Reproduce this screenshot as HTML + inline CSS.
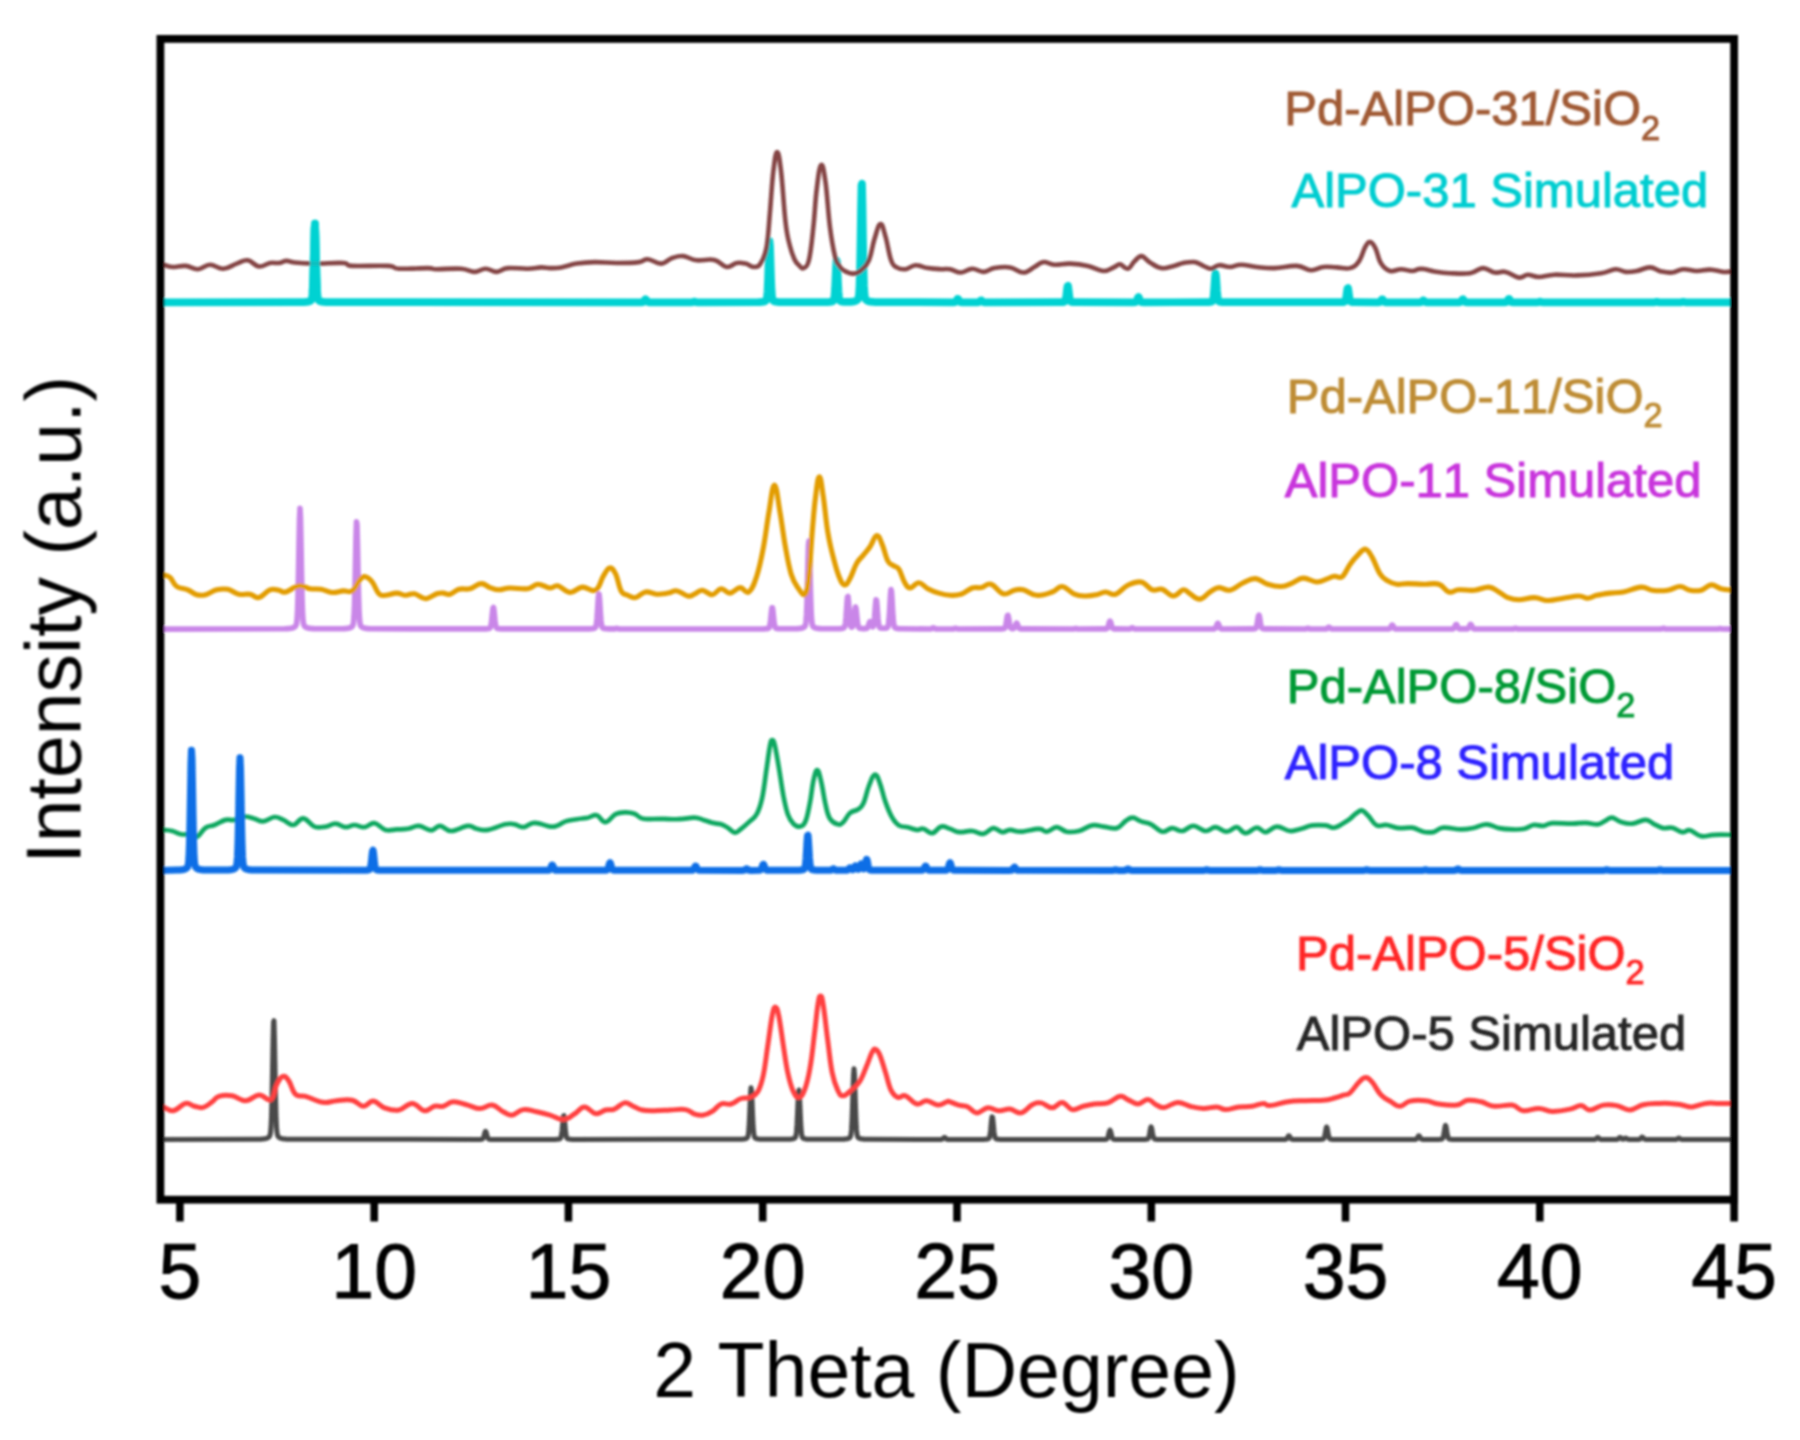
<!DOCTYPE html>
<html><head><meta charset="utf-8"><title>XRD patterns</title>
<style>
html,body{margin:0;padding:0;background:#fff;}
body{width:1800px;height:1440px;overflow:hidden;}
svg{display:block;}
text{font-kerning:none;stroke-width:1.0px;paint-order:stroke;font-family:"Liberation Sans",Arial,Helvetica,sans-serif;}
</style></head><body>
<svg width="1800" height="1440" viewBox="0 0 1800 1440">
<defs><filter id="b" x="-5%" y="-5%" width="110%" height="110%"><feGaussianBlur stdDeviation="1.3"/></filter></defs>
<rect width="1800" height="1440" fill="#fff"/>
<g filter="url(#b)">
<path d="M160.5 1139.6L259.0 1139.3L259.5 1139.3L260.0 1139.2L260.5 1139.2L261.0 1139.2L261.5 1139.1L262.0 1139.1L262.5 1139.1L263.0 1139.0L263.5 1139.0L264.0 1138.9L264.5 1138.8L265.0 1138.7L265.5 1138.6L266.0 1138.5L266.5 1138.4L267.0 1138.2L267.5 1138.0L268.0 1137.7L268.5 1137.4L269.0 1137.0L269.5 1136.3L270.0 1135.2L270.5 1132.8L271.0 1127.5L271.5 1116.5L272.0 1097.3L272.5 1070.3L273.0 1041.5L273.5 1021.9L274.0 1020.7L274.5 1038.7L275.0 1067.0L275.5 1094.6L276.0 1114.8L276.5 1126.6L277.0 1132.4L277.5 1135.0L278.0 1136.2L278.5 1136.9L279.0 1137.4L279.5 1137.7L280.0 1138.0L280.5 1138.2L281.0 1138.4L281.5 1138.5L282.0 1138.6L282.5 1138.7L283.0 1138.8L283.5 1138.9L284.0 1139.0L284.5 1139.0L285.0 1139.1L285.5 1139.1L286.0 1139.1L286.5 1139.2L287.0 1139.2L287.5 1139.2L288.0 1139.3L288.5 1139.3L480.0 1139.4L480.5 1139.4L481.0 1139.4L481.5 1139.3L482.0 1139.2L482.5 1139.0L483.0 1138.5L483.5 1137.5L484.0 1135.9L484.5 1133.9L485.0 1132.1L485.5 1131.3L486.0 1131.8L486.5 1133.5L487.0 1135.5L487.5 1137.2L488.0 1138.3L488.5 1138.9L489.0 1139.2L489.5 1139.3L490.0 1139.4L490.5 1139.4L491.0 1139.4L491.5 1139.5L555.0 1139.4L555.5 1139.4L556.0 1139.4L556.5 1139.3L557.0 1139.3L557.5 1139.3L558.0 1139.2L558.5 1139.1L559.0 1139.1L559.5 1138.9L560.0 1138.7L560.5 1138.2L561.0 1137.2L561.5 1134.9L562.0 1131.1L562.5 1125.7L563.0 1119.9L563.5 1116.0L564.0 1115.7L564.5 1119.3L565.0 1125.0L565.5 1130.6L566.0 1134.6L566.5 1137.0L567.0 1138.1L567.5 1138.7L568.0 1138.9L568.5 1139.0L569.0 1139.1L569.5 1139.2L570.0 1139.3L570.5 1139.3L571.0 1139.3L571.5 1139.4L572.0 1139.4L572.5 1139.4L740.0 1139.3L740.5 1139.3L741.0 1139.3L741.5 1139.3L742.0 1139.2L742.5 1139.2L743.0 1139.1L743.5 1139.1L744.0 1139.0L744.5 1139.0L745.0 1138.9L745.5 1138.7L746.0 1138.6L746.5 1138.4L747.0 1138.0L747.5 1137.4L748.0 1136.1L748.5 1133.1L749.0 1127.3L749.5 1117.8L750.0 1105.5L750.5 1093.9L751.0 1087.8L751.5 1090.2L752.0 1100.0L752.5 1112.5L753.0 1123.5L753.5 1130.9L754.0 1135.0L754.5 1137.0L755.0 1137.8L755.5 1138.2L756.0 1138.5L756.5 1138.7L757.0 1138.8L757.5 1138.9L758.0 1139.0L758.5 1139.1L759.0 1139.1L759.5 1139.2L760.0 1139.2L760.5 1139.2L761.0 1139.3L761.5 1139.3L762.0 1139.3L788.0 1139.3L788.5 1139.3L789.0 1139.3L789.5 1139.2L790.0 1139.2L790.5 1139.2L791.0 1139.1L791.5 1139.1L792.0 1139.0L792.5 1138.9L793.0 1138.8L793.5 1138.7L794.0 1138.5L794.5 1138.3L795.0 1137.9L795.5 1137.1L796.0 1135.2L796.5 1131.3L797.0 1124.2L797.5 1113.7L798.0 1101.6L798.5 1092.3L799.0 1090.0L799.5 1095.8L800.0 1106.9L800.5 1118.7L801.0 1127.8L801.5 1133.4L802.0 1136.2L802.5 1137.5L803.0 1138.1L803.5 1138.4L804.0 1138.6L804.5 1138.8L805.0 1138.9L805.5 1139.0L806.0 1139.0L806.5 1139.1L807.0 1139.2L807.5 1139.2L808.0 1139.2L808.5 1139.3L809.0 1139.3L809.5 1139.3L810.0 1139.3L841.5 1139.3L842.0 1139.3L842.5 1139.3L843.0 1139.2L843.5 1139.2L844.0 1139.2L844.5 1139.1L845.0 1139.1L845.5 1139.0L846.0 1139.0L846.5 1138.9L847.0 1138.8L847.5 1138.7L848.0 1138.6L848.5 1138.4L849.0 1138.2L849.5 1137.9L850.0 1137.4L850.5 1136.4L851.0 1134.2L851.5 1129.4L852.0 1120.4L852.5 1106.4L853.0 1089.3L853.5 1074.6L854.0 1068.7L854.5 1074.6L855.0 1089.3L855.5 1106.4L856.0 1120.4L856.5 1129.4L857.0 1134.2L857.5 1136.4L858.0 1137.4L858.5 1137.9L859.0 1138.2L859.5 1138.4L860.0 1138.6L860.5 1138.7L861.0 1138.8L861.5 1138.9L862.0 1139.0L862.5 1139.0L863.0 1139.1L863.5 1139.1L864.0 1139.2L864.5 1139.2L865.0 1139.3L865.5 1139.3L866.0 1139.3L866.5 1139.3L940.5 1139.5L941.0 1139.5L941.5 1139.4L942.0 1139.2L942.5 1139.0L943.0 1138.5L943.5 1138.0L944.0 1137.6L944.5 1137.4L945.0 1137.6L945.5 1138.1L946.0 1138.6L946.5 1139.0L947.0 1139.3L947.5 1139.4L948.0 1139.5L948.5 1139.5L984.0 1139.4L984.5 1139.4L985.0 1139.3L985.5 1139.3L986.0 1139.3L986.5 1139.2L987.0 1139.2L987.5 1139.1L988.0 1138.9L988.5 1138.7L989.0 1138.2L989.5 1137.1L990.0 1134.8L990.5 1131.0L991.0 1125.7L991.5 1120.3L992.0 1116.8L992.5 1117.1L993.0 1120.8L993.5 1126.3L994.0 1131.5L994.5 1135.2L995.0 1137.3L995.5 1138.3L996.0 1138.7L996.5 1139.0L997.0 1139.1L997.5 1139.2L998.0 1139.2L998.5 1139.3L999.0 1139.3L999.5 1139.4L1000.0 1139.4L1000.5 1139.4L1104.0 1139.4L1104.5 1139.4L1105.0 1139.4L1105.5 1139.4L1106.0 1139.3L1106.5 1139.2L1107.0 1138.9L1107.5 1138.2L1108.0 1137.0L1108.5 1135.2L1109.0 1132.9L1109.5 1131.0L1110.0 1130.2L1110.5 1131.0L1111.0 1132.9L1111.5 1135.2L1112.0 1137.0L1112.5 1138.2L1113.0 1138.9L1113.5 1139.2L1114.0 1139.3L1114.5 1139.4L1115.0 1139.4L1115.5 1139.4L1116.0 1139.4L1144.5 1139.4L1145.0 1139.4L1145.5 1139.4L1146.0 1139.3L1146.5 1139.3L1147.0 1139.2L1147.5 1139.1L1148.0 1138.7L1148.5 1138.0L1149.0 1136.6L1149.5 1134.2L1150.0 1131.2L1150.5 1128.4L1151.0 1126.9L1151.5 1127.5L1152.0 1129.9L1152.5 1133.0L1153.0 1135.7L1153.5 1137.5L1154.0 1138.5L1154.5 1138.9L1155.0 1139.2L1155.5 1139.3L1156.0 1139.3L1156.5 1139.4L1157.0 1139.4L1157.5 1139.4L1158.0 1139.4L1284.5 1139.5L1285.0 1139.5L1285.5 1139.4L1286.0 1139.2L1286.5 1138.9L1287.0 1138.4L1287.5 1137.6L1288.0 1136.6L1288.5 1135.9L1289.0 1135.7L1289.5 1136.2L1290.0 1137.1L1290.5 1138.0L1291.0 1138.7L1291.5 1139.1L1292.0 1139.3L1292.5 1139.4L1293.0 1139.5L1293.5 1139.5L1320.0 1139.4L1320.5 1139.4L1321.0 1139.4L1321.5 1139.3L1322.0 1139.3L1322.5 1139.2L1323.0 1139.1L1323.5 1138.8L1324.0 1138.1L1324.5 1136.8L1325.0 1134.6L1325.5 1131.6L1326.0 1128.7L1326.5 1127.0L1327.0 1127.3L1327.5 1129.6L1328.0 1132.6L1328.5 1135.4L1329.0 1137.3L1329.5 1138.4L1330.0 1138.9L1330.5 1139.1L1331.0 1139.3L1331.5 1139.3L1332.0 1139.4L1332.5 1139.4L1333.0 1139.4L1333.5 1139.4L1414.5 1139.5L1415.0 1139.4L1415.5 1139.4L1416.0 1139.2L1416.5 1138.9L1417.0 1138.4L1417.5 1137.6L1418.0 1136.6L1418.5 1135.9L1419.0 1135.7L1419.5 1136.2L1420.0 1137.1L1420.5 1138.0L1421.0 1138.7L1421.5 1139.1L1422.0 1139.3L1422.5 1139.4L1423.0 1139.5L1423.5 1139.5L1438.5 1139.4L1439.0 1139.4L1439.5 1139.4L1440.0 1139.3L1440.5 1139.3L1441.0 1139.2L1441.5 1139.2L1442.0 1139.0L1442.5 1138.6L1443.0 1137.7L1443.5 1136.0L1444.0 1133.3L1444.5 1129.9L1445.0 1126.8L1445.5 1125.3L1446.0 1126.3L1446.5 1129.1L1447.0 1132.5L1447.5 1135.5L1448.0 1137.4L1448.5 1138.4L1449.0 1138.9L1449.5 1139.1L1450.0 1139.2L1450.5 1139.3L1451.0 1139.3L1451.5 1139.4L1452.0 1139.4L1452.5 1139.4L1593.5 1139.5L1594.0 1139.5L1594.5 1139.5L1595.0 1139.4L1595.5 1139.2L1596.0 1138.8L1596.5 1138.4L1597.0 1137.8L1597.5 1137.5L1598.0 1137.5L1598.5 1137.8L1599.0 1138.3L1599.5 1138.8L1600.0 1139.1L1600.5 1139.4L1601.0 1139.5L1601.5 1139.5L1602.0 1139.5L1616.0 1139.5L1616.5 1139.5L1617.0 1139.4L1617.5 1139.3L1618.0 1139.0L1618.5 1138.6L1619.0 1138.0L1619.5 1137.6L1620.0 1137.4L1620.5 1137.6L1621.0 1138.0L1621.5 1138.5L1622.0 1138.9L1622.5 1139.2L1623.0 1139.2L1623.5 1139.1L1624.0 1138.9L1624.5 1138.5L1625.0 1138.2L1625.5 1138.1L1626.0 1138.2L1626.5 1138.5L1627.0 1138.8L1627.5 1139.1L1628.0 1139.3L1628.5 1139.4L1629.0 1139.5L1629.5 1139.5L1638.0 1139.5L1638.5 1139.5L1639.0 1139.4L1639.5 1139.3L1640.0 1139.0L1640.5 1138.6L1641.0 1138.0L1641.5 1137.4L1642.0 1137.0L1642.5 1137.1L1643.0 1137.5L1643.5 1138.1L1644.0 1138.7L1644.5 1139.1L1645.0 1139.3L1645.5 1139.4L1646.0 1139.5L1646.5 1139.5L1675.0 1139.5L1675.5 1139.5L1676.0 1139.5L1676.5 1139.3L1677.0 1139.1L1677.5 1138.8L1678.0 1138.5L1678.5 1138.2L1679.0 1138.1L1679.5 1138.3L1680.0 1138.6L1680.5 1139.0L1681.0 1139.2L1681.5 1139.4L1682.0 1139.5L1682.5 1139.5L1734.5 1139.6" fill="none" stroke="#4A4A4A" stroke-width="5.0" stroke-linejoin="round"/>
<path d="M160.5 1106.9C161.1 1106.9 160.8 1106.2 163.3 1106.9C165.9 1107.7 168.9 1111.4 173.3 1110.7C177.8 1110.0 181.3 1104.3 185.6 1103.4C189.8 1102.5 190.9 1105.5 194.4 1106.3C198.0 1107.1 199.8 1108.3 203.3 1107.4C206.9 1106.5 209.1 1104.0 212.2 1101.8C215.3 1099.6 214.9 1097.5 218.9 1096.3C222.9 1095.1 226.9 1094.9 232.2 1095.8C237.6 1096.7 240.2 1100.8 245.6 1100.7C250.9 1100.6 253.8 1095.4 258.9 1095.1C264.0 1094.9 267.6 1101.7 271.1 1099.6C274.7 1097.5 274.3 1089.2 276.7 1084.6C279.0 1079.9 280.4 1077.0 282.9 1076.3C285.3 1075.6 286.4 1077.4 288.9 1081.0C291.4 1084.7 292.2 1091.4 295.6 1094.4C298.9 1097.5 301.3 1095.0 305.6 1096.3C309.8 1097.5 312.7 1099.5 316.7 1100.7C320.7 1101.9 321.6 1102.5 325.6 1102.5C329.6 1102.5 331.3 1101.1 336.7 1100.7C342.0 1100.3 346.9 1099.1 352.2 1100.3C357.6 1101.4 359.1 1106.1 363.3 1106.3C367.6 1106.4 369.1 1100.8 373.3 1101.1C377.6 1101.5 379.3 1106.0 384.4 1107.8C389.6 1109.6 393.3 1110.9 398.9 1110.0C404.4 1109.1 407.1 1103.2 412.2 1103.4C417.3 1103.5 420.0 1110.1 424.4 1110.7C428.9 1111.3 430.7 1107.1 434.4 1106.3C438.2 1105.4 439.6 1107.1 443.3 1106.3C447.1 1105.4 448.4 1102.0 453.3 1101.8C458.2 1101.6 462.4 1103.8 467.8 1105.1C473.1 1106.5 475.1 1108.5 480.0 1108.5C484.9 1108.5 487.6 1104.5 492.2 1105.1C496.9 1105.8 499.3 1109.8 503.3 1111.8C507.3 1113.8 508.2 1115.6 512.2 1115.1C516.2 1114.7 518.4 1110.3 523.3 1109.6C528.2 1108.9 531.3 1110.7 536.7 1111.8C542.0 1112.9 544.7 1113.6 550.0 1115.1C555.3 1116.7 558.4 1119.8 563.3 1119.6C568.2 1119.4 570.2 1116.6 574.4 1114.0C578.7 1111.5 580.2 1107.0 584.4 1106.9C588.7 1106.8 591.3 1113.0 595.6 1113.6C599.8 1114.2 601.8 1110.9 605.6 1110.0C609.3 1109.1 610.7 1110.6 614.4 1109.1C618.2 1107.7 620.7 1103.5 624.4 1102.9C628.2 1102.3 629.8 1104.8 633.3 1106.3C636.9 1107.7 638.0 1109.1 642.2 1110.0C646.4 1110.9 648.9 1110.7 654.4 1110.7C660.0 1110.7 663.8 1110.3 670.0 1110.0C676.2 1109.8 680.7 1108.8 685.6 1109.6C690.4 1110.4 690.9 1112.9 694.4 1114.0C698.0 1115.1 699.8 1115.7 703.3 1115.1C706.9 1114.6 708.7 1113.6 712.2 1111.4C715.8 1109.1 717.3 1105.5 721.1 1104.0C724.9 1102.6 727.1 1105.1 731.1 1104.0C735.1 1102.9 737.3 1099.8 741.1 1098.5C744.9 1097.1 746.7 1098.7 750.0 1097.4C753.3 1096.0 755.1 1096.0 757.8 1091.6C760.4 1087.2 761.3 1084.4 763.3 1075.2C765.3 1065.9 766.0 1057.3 767.8 1045.4C769.6 1033.4 770.7 1023.0 772.2 1015.4C773.8 1007.7 774.2 1006.9 775.6 1007.1C776.9 1007.4 777.3 1008.8 778.9 1016.5C780.4 1024.1 781.6 1034.1 783.3 1045.4C785.1 1056.6 785.8 1063.6 787.8 1072.8C789.8 1082.1 791.1 1086.7 793.3 1091.6C795.6 1096.5 796.7 1097.6 798.9 1097.4C801.1 1097.1 802.2 1096.3 804.4 1090.4C806.7 1084.6 808.0 1079.4 810.0 1068.1C812.0 1056.9 812.9 1046.8 814.4 1034.3C816.0 1021.7 816.6 1013.0 817.8 1005.4C819.0 997.7 819.3 996.0 820.4 996.0C821.6 996.0 821.9 996.4 823.3 1005.4C824.8 1014.3 826.0 1027.4 827.8 1040.9C829.6 1054.4 830.2 1062.9 832.2 1072.8C834.2 1082.7 835.6 1085.8 837.8 1090.4C840.0 1095.0 840.4 1096.0 843.3 1095.8C846.2 1095.6 848.9 1092.2 852.2 1089.3C855.6 1086.3 857.1 1085.7 860.0 1081.0C862.9 1076.3 864.2 1071.6 866.7 1065.8C869.1 1060.0 870.4 1055.3 872.2 1052.0C874.0 1048.8 874.0 1048.7 875.6 1049.4C877.1 1050.0 878.0 1050.7 880.0 1055.4C882.0 1060.1 883.3 1065.8 885.6 1072.8C887.8 1079.8 888.7 1085.5 891.1 1090.4C893.6 1095.3 894.9 1096.3 897.8 1097.4C900.7 1098.4 901.8 1094.5 905.6 1095.8C909.3 1097.1 912.4 1103.1 916.7 1104.0C920.9 1105.0 922.4 1100.5 926.7 1100.7C930.9 1100.9 933.8 1104.9 937.8 1105.1C941.8 1105.4 944.2 1102.5 946.7 1101.8C949.1 1101.1 947.6 1101.1 950.0 1101.8C952.4 1102.5 955.3 1104.1 958.9 1105.1C962.4 1106.2 964.2 1105.4 967.8 1106.9C971.3 1108.5 972.7 1112.7 976.7 1112.9C980.7 1113.1 983.3 1108.3 987.8 1107.8C992.2 1107.4 994.4 1110.4 998.9 1110.7C1003.3 1111.0 1005.6 1108.7 1010.0 1109.1C1014.4 1109.6 1016.7 1113.8 1021.1 1112.9C1025.6 1112.0 1028.2 1106.7 1032.2 1104.7C1036.2 1102.7 1037.1 1102.3 1041.1 1102.9C1045.1 1103.5 1048.0 1107.9 1052.2 1107.8C1056.4 1107.7 1058.2 1102.1 1062.2 1102.5C1066.2 1102.8 1068.0 1108.8 1072.2 1109.6C1076.4 1110.3 1078.9 1107.4 1083.3 1106.3C1087.8 1105.1 1089.6 1104.7 1094.4 1104.0C1099.3 1103.4 1102.7 1104.5 1107.8 1102.9C1112.9 1101.4 1116.0 1096.9 1120.0 1096.3C1124.0 1095.6 1124.2 1098.0 1127.8 1099.6C1131.3 1101.1 1133.8 1104.0 1137.8 1104.0C1141.8 1104.0 1144.0 1099.4 1147.8 1099.6C1151.6 1099.8 1153.3 1103.6 1156.7 1105.1C1160.0 1106.7 1160.2 1107.9 1164.4 1107.4C1168.7 1106.8 1172.7 1102.7 1177.8 1102.5C1182.9 1102.3 1184.9 1105.1 1190.0 1106.3C1195.1 1107.5 1198.0 1108.3 1203.3 1108.5C1208.7 1108.6 1212.2 1106.7 1216.7 1106.9C1221.1 1107.1 1221.1 1109.6 1225.6 1109.6C1230.0 1109.6 1233.6 1107.6 1238.9 1106.9C1244.2 1106.3 1247.3 1107.0 1252.2 1106.3C1257.1 1105.5 1259.8 1103.5 1263.3 1103.4C1266.9 1103.2 1265.1 1105.9 1270.0 1105.6C1274.9 1105.3 1280.7 1102.8 1287.8 1101.8C1294.9 1100.8 1298.4 1101.0 1305.6 1100.7C1312.7 1100.4 1317.6 1100.8 1323.3 1100.3C1329.1 1099.7 1330.4 1099.1 1334.4 1098.0C1338.4 1097.0 1340.2 1096.2 1343.3 1095.1C1346.4 1094.1 1346.9 1095.4 1350.0 1092.8C1353.1 1090.2 1355.8 1085.3 1358.9 1082.2C1362.0 1079.2 1362.9 1077.5 1365.6 1077.5C1368.2 1077.5 1369.1 1078.7 1372.2 1082.2C1375.3 1085.7 1377.3 1091.2 1381.1 1095.1C1384.9 1099.1 1387.3 1099.6 1391.1 1101.8C1394.9 1104.0 1396.2 1106.4 1400.0 1106.3C1403.8 1106.1 1404.9 1102.3 1410.0 1101.1C1415.1 1100.0 1419.8 1100.1 1425.6 1100.7C1431.3 1101.3 1432.7 1103.1 1438.9 1104.0C1445.1 1104.9 1450.9 1105.9 1456.7 1105.1C1462.4 1104.4 1462.9 1100.9 1467.8 1100.3C1472.7 1099.6 1475.8 1100.6 1481.1 1101.8C1486.4 1103.0 1488.2 1105.6 1494.4 1106.3C1500.7 1106.9 1506.4 1104.3 1512.2 1105.1C1518.0 1106.0 1518.0 1110.0 1523.3 1110.7C1528.7 1111.4 1533.1 1108.3 1538.9 1108.5C1544.7 1108.6 1546.0 1111.2 1552.2 1111.4C1558.4 1111.5 1564.2 1110.3 1570.0 1109.1C1575.8 1108.0 1577.1 1105.4 1581.1 1105.6C1585.1 1105.8 1585.6 1110.1 1590.0 1110.0C1594.4 1109.9 1598.0 1106.0 1603.3 1105.1C1608.7 1104.3 1611.3 1104.6 1616.7 1105.6C1622.0 1106.6 1624.7 1110.2 1630.0 1110.0C1635.3 1109.9 1637.6 1106.0 1643.3 1104.7C1649.1 1103.4 1653.6 1103.6 1658.9 1103.4C1664.2 1103.1 1665.6 1103.1 1670.0 1103.4C1674.4 1103.6 1676.7 1104.0 1681.1 1104.7C1685.6 1105.4 1687.3 1107.2 1692.2 1106.9C1697.1 1106.7 1700.2 1104.1 1705.6 1103.4C1710.9 1102.7 1713.6 1103.4 1718.9 1103.4C1724.2 1103.4 1729.1 1103.4 1732.2 1103.4C1735.3 1103.4 1734.0 1103.4 1734.5 1103.4" fill="none" stroke="#FF4040" stroke-width="5.0" stroke-linejoin="round" stroke-linecap="butt"/>
<path d="M160.5 829.9C161.1 829.9 161.0 829.7 163.3 829.9C165.7 830.1 168.7 830.1 172.2 831.0C175.8 831.9 177.6 833.7 181.1 834.3C184.7 835.0 186.9 833.8 190.0 834.3C193.1 834.9 193.6 838.3 196.7 837.0C199.8 835.7 202.0 830.1 205.6 827.7C209.1 825.3 210.4 826.6 214.4 825.0C218.4 823.4 221.6 820.9 225.6 819.9C229.6 818.9 230.7 820.6 234.4 819.9C238.2 819.2 240.4 816.7 244.4 816.5C248.4 816.3 250.7 817.8 254.4 818.8C258.2 819.8 259.3 821.8 263.3 821.4C267.3 821.1 270.4 817.3 274.4 817.0C278.4 816.7 279.6 818.3 283.3 819.9C287.1 821.5 289.3 825.3 293.3 825.0C297.3 824.7 299.1 818.0 303.3 818.3C307.6 818.6 310.0 824.9 314.4 826.6C318.9 828.2 321.3 827.1 325.6 826.6C329.8 826.0 331.6 823.5 335.6 823.7C339.6 823.8 341.8 827.0 345.6 827.2C349.3 827.5 350.7 825.0 354.4 825.0C358.2 825.0 360.4 827.6 364.4 827.2C368.4 826.9 370.2 822.7 374.4 823.2C378.7 823.8 381.1 828.6 385.6 829.9C390.0 831.1 392.2 829.7 396.7 829.4C401.1 829.2 403.3 829.5 407.8 828.8C412.2 828.1 414.2 825.6 418.9 825.9C423.6 826.2 426.9 830.3 431.1 830.3C435.3 830.3 436.0 825.8 440.0 825.9C444.0 826.0 445.6 831.0 451.1 831.0C456.7 831.0 462.7 826.3 467.8 825.9C472.9 825.4 472.7 828.0 476.7 828.8C480.7 829.6 482.0 830.8 487.8 829.9C493.6 829.0 500.2 825.4 505.6 824.3C510.9 823.2 510.9 823.8 514.4 824.3C518.0 824.9 519.3 827.5 523.3 827.2C527.3 826.9 529.1 822.9 534.4 822.8C539.8 822.6 545.3 826.0 550.0 826.6C554.7 827.1 554.7 826.5 557.8 825.4C560.9 824.4 561.8 822.7 565.6 821.4C569.3 820.2 572.2 820.0 576.7 819.2C581.1 818.5 583.8 818.4 587.8 817.7C591.8 816.9 593.1 814.4 596.7 815.3C600.2 816.2 601.8 822.3 605.6 822.1C609.3 821.9 611.6 816.1 615.6 814.2C619.6 812.2 621.8 812.4 625.6 812.3C629.3 812.2 630.9 812.4 634.4 813.7C638.0 815.0 638.0 817.8 643.3 818.8C648.7 819.8 654.0 818.7 661.1 818.8C668.2 818.9 672.2 819.4 678.9 819.2C685.6 819.0 689.6 817.5 694.4 817.7C699.3 817.8 699.8 818.9 703.3 819.9C706.9 820.9 708.7 821.9 712.2 822.8C715.8 823.7 718.0 823.4 721.1 824.3C724.2 825.3 725.0 826.0 727.8 827.7C730.5 829.3 732.2 832.3 734.9 832.6C737.6 832.8 738.3 830.9 741.1 828.8C743.9 826.7 745.8 825.0 748.9 822.1C752.0 819.2 754.0 819.0 756.7 814.2C759.3 809.3 760.2 807.0 762.2 797.7C764.2 788.5 765.1 778.3 766.7 767.9C768.2 757.5 768.9 751.2 770.0 745.7C771.1 740.1 771.2 740.1 772.2 740.1C773.2 740.1 773.6 740.1 774.9 745.7C776.2 751.2 777.2 757.9 778.9 767.9C780.6 777.8 781.6 786.1 783.3 795.4C785.1 804.6 785.8 808.5 787.8 814.2C789.8 819.8 790.9 821.2 793.3 823.7C795.8 826.1 797.6 827.1 800.0 826.6C802.4 826.0 803.6 825.8 805.6 821.0C807.6 816.2 808.4 810.4 810.0 802.4C811.6 794.5 811.9 787.7 813.3 781.3C814.8 774.8 815.6 770.1 817.1 770.1C818.7 770.1 819.4 774.3 821.1 781.3C822.8 788.2 823.8 797.3 825.6 804.8C827.3 812.3 827.6 814.9 830.0 818.8C832.4 822.7 835.1 823.7 837.8 824.3C840.4 825.0 840.9 824.4 843.3 822.1C845.8 819.8 847.1 815.5 850.0 813.0C852.9 810.5 855.1 811.3 857.8 809.5C860.4 807.6 861.1 808.3 863.3 803.6C865.6 798.9 866.6 791.8 868.9 786.0C871.2 780.2 872.7 775.0 874.9 774.6C877.1 774.1 877.9 778.0 880.0 783.6C882.1 789.2 883.1 795.6 885.6 802.4C888.0 809.2 889.6 813.1 892.2 817.7C894.9 822.3 895.8 823.5 898.9 825.4C902.0 827.4 904.2 826.3 907.8 827.2C911.3 828.1 913.6 829.6 916.7 829.9C919.8 830.2 920.2 828.1 923.3 828.8C926.4 829.4 928.7 833.7 932.2 833.2C935.8 832.8 937.6 827.4 941.1 826.6C944.7 825.7 946.4 827.7 950.0 828.8C953.6 829.9 954.4 831.7 958.9 832.1C963.3 832.6 967.3 830.6 972.2 831.0C977.1 831.4 979.1 834.5 983.3 833.9C987.6 833.3 989.6 828.5 993.3 828.1C997.1 827.8 998.9 831.8 1002.2 832.1C1005.6 832.5 1006.2 830.0 1010.0 829.9C1013.8 829.8 1015.3 831.9 1021.1 831.7C1026.9 831.4 1033.8 828.8 1038.9 828.8C1044.0 828.8 1043.1 832.0 1046.7 831.7C1050.2 831.4 1052.7 827.2 1056.7 827.2C1060.7 827.2 1062.2 830.9 1066.7 831.7C1071.1 832.4 1073.8 832.2 1078.9 831.0C1084.0 829.8 1087.3 826.3 1092.2 825.4C1097.1 824.6 1098.4 826.0 1103.3 826.6C1108.2 827.1 1112.2 829.2 1116.7 828.1C1121.1 827.0 1122.4 823.1 1125.6 821.0C1128.8 818.9 1129.6 817.6 1132.7 817.7C1135.8 817.8 1137.4 820.1 1141.1 821.4C1144.8 822.8 1146.9 822.3 1151.1 824.3C1155.3 826.4 1158.0 830.9 1162.2 831.7C1166.4 832.4 1168.2 828.2 1172.2 828.1C1176.2 828.0 1178.0 831.4 1182.2 831.0C1186.4 830.6 1188.7 825.9 1193.3 825.9C1198.0 825.9 1201.1 830.7 1205.6 831.0C1210.0 831.3 1211.3 827.1 1215.6 827.2C1219.8 827.4 1222.4 831.7 1226.7 831.7C1230.9 831.7 1232.9 826.9 1236.7 827.2C1240.4 827.5 1241.6 833.1 1245.6 833.2C1249.6 833.3 1252.7 827.9 1256.7 827.7C1260.7 827.4 1261.6 832.3 1265.6 832.1C1269.6 831.9 1271.8 826.8 1276.7 826.6C1281.6 826.3 1285.1 830.6 1290.0 831.0C1294.9 831.4 1296.7 829.9 1301.1 828.8C1305.6 827.7 1307.3 826.1 1312.2 825.4C1317.1 824.8 1321.1 825.0 1325.6 825.4C1330.0 825.9 1330.9 828.1 1334.4 827.7C1338.0 827.2 1340.2 825.0 1343.3 823.2C1346.4 821.4 1347.3 820.8 1350.0 818.8C1352.7 816.7 1354.2 814.6 1356.7 813.0C1359.1 811.4 1359.8 809.9 1362.2 810.6C1364.7 811.3 1366.0 813.5 1368.9 816.5C1371.8 819.5 1373.1 823.7 1376.7 825.4C1380.2 827.1 1382.2 824.5 1386.7 825.0C1391.1 825.5 1393.8 827.6 1398.9 828.1C1404.0 828.6 1407.3 827.0 1412.2 827.7C1417.1 828.4 1419.1 830.8 1423.3 831.7C1427.6 832.6 1429.3 832.9 1433.3 832.1C1437.3 831.3 1437.8 828.2 1443.3 827.7C1448.9 827.1 1454.9 829.4 1461.1 829.4C1467.3 829.4 1469.3 828.7 1474.4 827.7C1479.6 826.6 1481.8 824.2 1486.7 824.3C1491.6 824.4 1493.8 827.1 1498.9 828.1C1504.0 829.1 1507.1 829.3 1512.2 829.4C1517.3 829.6 1520.2 829.7 1524.4 828.8C1528.7 827.9 1529.6 825.6 1533.3 825.0C1537.1 824.4 1539.6 826.2 1543.3 825.9C1547.1 825.5 1546.4 823.7 1552.2 823.2C1558.0 822.8 1565.6 823.8 1572.2 823.7C1578.9 823.6 1580.4 822.6 1585.6 822.8C1590.7 822.9 1593.8 824.8 1597.8 824.3C1601.8 823.9 1602.7 821.9 1605.6 820.6C1608.4 819.2 1609.1 817.4 1612.2 817.7C1615.3 818.0 1617.1 820.9 1621.1 822.1C1625.1 823.3 1627.3 824.1 1632.2 823.7C1637.1 823.2 1641.1 819.8 1645.6 819.9C1650.0 820.0 1650.9 822.7 1654.4 824.3C1658.0 826.0 1659.8 827.4 1663.3 828.1C1666.9 828.8 1668.4 826.9 1672.2 827.7C1676.0 828.5 1678.7 831.6 1682.2 832.1C1685.8 832.6 1686.2 829.5 1690.0 830.3C1693.8 831.1 1696.2 835.2 1701.1 836.1C1706.0 837.0 1708.2 835.0 1714.4 834.8C1720.7 834.5 1728.2 834.8 1732.2 834.8C1736.2 834.8 1734.0 834.8 1734.5 834.8" fill="none" stroke="#10A860" stroke-width="4.7" stroke-linejoin="round" stroke-linecap="butt"/>
<path d="M160.5 870.4L177.0 870.1L177.5 870.1L178.0 870.1L178.5 870.1L179.0 870.0L179.5 870.0L180.0 870.0L180.5 869.9L181.0 869.9L181.5 869.8L182.0 869.7L182.5 869.7L183.0 869.6L183.5 869.5L184.0 869.4L184.5 869.2L185.0 869.0L185.5 868.8L186.0 868.6L186.5 868.2L187.0 867.8L187.5 867.1L188.0 865.8L188.5 862.9L189.0 856.3L189.5 842.9L190.0 820.4L190.5 790.8L191.0 763.2L191.5 750.2L192.0 758.7L192.5 784.1L193.0 814.2L193.5 838.7L194.0 854.1L194.5 861.9L195.0 865.3L195.5 866.9L196.0 867.6L196.5 868.1L197.0 868.5L197.5 868.8L198.0 869.0L198.5 869.2L199.0 869.3L199.5 869.4L200.0 869.5L200.5 869.6L201.0 869.7L201.5 869.8L202.0 869.8L202.5 869.9L203.0 869.9L203.5 870.0L204.0 870.0L204.5 870.0L205.0 870.0L205.5 870.1L226.0 870.1L226.5 870.1L227.0 870.0L227.5 870.0L228.0 870.0L228.5 869.9L229.0 869.9L229.5 869.9L230.0 869.8L230.5 869.8L231.0 869.7L231.5 869.6L232.0 869.5L232.5 869.4L233.0 869.3L233.5 869.1L234.0 868.9L234.5 868.6L235.0 868.3L235.5 867.9L236.0 867.2L236.5 865.9L237.0 862.9L237.5 856.2L238.0 842.8L238.5 820.8L239.0 792.8L239.5 767.9L240.0 757.8L240.5 767.9L241.0 792.8L241.5 820.8L242.0 842.8L242.5 856.2L243.0 862.9L243.5 865.9L244.0 867.2L244.5 867.9L245.0 868.3L245.5 868.7L246.0 868.9L246.5 869.1L247.0 869.3L247.5 869.4L248.0 869.5L248.5 869.6L249.0 869.7L249.5 869.8L250.0 869.8L250.5 869.9L251.0 869.9L251.5 870.0L252.0 870.0L252.5 870.0L253.0 870.1L253.5 870.1L254.0 870.1L254.5 870.1L365.0 870.3L365.5 870.2L366.0 870.2L366.5 870.2L367.0 870.1L367.5 870.1L368.0 870.0L368.5 869.9L369.0 869.8L369.5 869.5L370.0 868.9L370.5 867.4L371.0 864.7L371.5 860.4L372.0 855.3L372.5 851.2L373.0 850.2L373.5 852.7L374.0 857.5L374.5 862.5L375.0 866.1L375.5 868.2L376.0 869.2L376.5 869.7L377.0 869.9L377.5 870.0L378.0 870.1L378.5 870.1L379.0 870.2L379.5 870.2L380.0 870.2L380.5 870.3L547.5 870.3L548.0 870.3L548.5 870.2L549.0 870.1L549.5 869.9L550.0 869.4L550.5 868.5L551.0 867.2L551.5 865.9L552.0 865.0L552.5 865.1L553.0 866.0L553.5 867.4L554.0 868.6L554.5 869.5L555.0 869.9L555.5 870.2L556.0 870.2L556.5 870.3L557.0 870.3L604.5 870.3L605.0 870.3L605.5 870.3L606.0 870.2L606.5 870.1L607.0 869.9L607.5 869.5L608.0 868.5L608.5 867.0L609.0 865.1L609.5 863.4L610.0 862.7L610.5 863.4L611.0 865.1L611.5 867.0L612.0 868.5L612.5 869.5L613.0 869.9L613.5 870.1L614.0 870.2L614.5 870.3L615.0 870.3L615.5 870.3L691.0 870.3L691.5 870.3L692.0 870.3L692.5 870.2L693.0 869.9L693.5 869.4L694.0 868.6L694.5 867.5L695.0 866.5L695.5 866.0L696.0 866.3L696.5 867.3L697.0 868.4L697.5 869.3L698.0 869.8L698.5 870.1L699.0 870.2L699.5 870.3L700.0 870.3L743.0 870.4L743.5 870.3L744.0 870.3L744.5 870.1L745.0 869.8L745.5 869.5L746.0 869.1L746.5 868.8L747.0 868.9L747.5 869.2L748.0 869.6L748.5 869.9L749.0 870.2L749.5 870.3L750.0 870.3L750.5 870.4L758.5 870.3L759.0 870.3L759.5 870.2L760.0 870.1L760.5 869.9L761.0 869.4L761.5 868.5L762.0 867.2L762.5 865.6L763.0 864.5L763.5 864.3L764.0 865.2L764.5 866.7L765.0 868.1L765.5 869.2L766.0 869.8L766.5 870.1L767.0 870.2L767.5 870.3L768.0 870.3L768.5 870.3L798.0 870.2L798.5 870.2L799.0 870.2L799.5 870.2L800.0 870.1L800.5 870.1L801.0 870.0L801.5 870.0L802.0 869.9L802.5 869.8L803.0 869.7L803.5 869.5L804.0 869.3L804.5 868.7L805.0 867.3L805.5 864.3L806.0 858.8L806.5 850.7L807.0 841.8L807.5 835.5L808.0 835.2L808.5 840.9L809.0 849.7L809.5 858.0L810.0 863.8L810.5 867.1L811.0 868.6L811.5 869.2L812.0 869.5L812.5 869.7L813.0 869.8L813.5 869.9L814.0 870.0L814.5 870.0L815.0 870.1L815.5 870.1L816.0 870.2L816.5 870.2L817.0 870.2L817.5 870.2L829.5 870.3L830.0 870.3L830.5 870.3L831.0 870.1L831.5 869.9L832.0 869.6L832.5 869.2L833.0 868.9L833.5 868.8L834.0 869.0L834.5 869.4L835.0 869.8L835.5 870.1L836.0 870.2L836.5 870.3L837.0 870.3L846.0 870.3L846.5 870.3L847.0 870.2L847.5 870.0L848.0 869.7L848.5 869.2L849.0 868.5L849.5 867.9L850.0 867.7L850.5 867.9L851.0 868.5L851.5 869.1L852.0 869.5L852.5 869.7L853.0 869.7L853.5 869.2L854.0 868.4L854.5 867.3L855.0 866.3L855.5 865.8L856.0 866.1L856.5 867.0L857.0 868.1L857.5 868.9L858.0 869.4L858.5 869.3L859.0 868.8L859.5 867.8L860.0 866.3L860.5 864.8L861.0 864.0L861.5 864.3L862.0 865.5L862.5 867.0L863.0 868.2L863.5 868.9L864.0 868.8L864.5 867.9L865.0 866.1L865.5 863.6L866.0 860.9L866.5 859.3L867.0 859.7L867.5 861.8L868.0 864.6L868.5 867.0L869.0 868.6L869.5 869.5L870.0 869.9L870.5 870.0L871.0 870.1L871.5 870.2L872.0 870.2L872.5 870.2L873.0 870.3L921.0 870.3L921.5 870.3L922.0 870.3L922.5 870.1L923.0 869.9L923.5 869.4L924.0 868.6L924.5 867.5L925.0 866.5L925.5 866.0L926.0 866.3L926.5 867.3L927.0 868.4L927.5 869.3L928.0 869.8L928.5 870.1L929.0 870.2L929.5 870.3L930.0 870.3L944.5 870.3L945.0 870.3L945.5 870.2L946.0 870.2L946.5 870.1L947.0 869.9L947.5 869.4L948.0 868.5L948.5 867.0L949.0 865.1L949.5 863.4L950.0 862.7L950.5 863.4L951.0 865.1L951.5 867.0L952.0 868.5L952.5 869.5L953.0 869.9L953.5 870.1L954.0 870.2L954.5 870.3L955.0 870.3L955.5 870.3L1010.0 870.4L1010.5 870.3L1011.0 870.3L1011.5 870.2L1012.0 870.0L1012.5 869.6L1013.0 868.9L1013.5 868.1L1014.0 867.4L1014.5 867.1L1015.0 867.5L1015.5 868.2L1016.0 869.1L1016.5 869.7L1017.0 870.0L1017.5 870.2L1018.0 870.3L1018.5 870.3L1112.5 870.4L1113.0 870.4L1113.5 870.3L1114.0 870.2L1114.5 870.0L1115.0 869.9L1115.5 869.8L1116.0 869.9L1116.5 870.0L1117.0 870.1L1117.5 870.3L1118.0 870.3L1118.5 870.4L1124.0 870.4L1124.5 870.4L1125.0 870.3L1125.5 870.2L1126.0 869.9L1126.5 869.6L1127.0 869.2L1127.5 868.9L1128.0 868.9L1128.5 869.1L1129.0 869.5L1129.5 869.9L1130.0 870.1L1130.5 870.3L1131.0 870.3L1131.5 870.4L1203.5 870.4L1204.0 870.4L1204.5 870.3L1205.0 870.2L1205.5 870.1L1206.0 869.9L1206.5 869.8L1207.0 869.9L1207.5 870.0L1208.0 870.1L1208.5 870.3L1209.0 870.3L1209.5 870.4L1210.0 870.4L1257.0 870.4L1257.5 870.4L1258.0 870.3L1258.5 870.2L1259.0 870.0L1259.5 869.9L1260.0 869.8L1260.5 869.9L1261.0 870.0L1261.5 870.2L1262.0 870.3L1262.5 870.4L1263.0 870.4L1276.0 870.4L1276.5 870.3L1277.0 870.3L1277.5 870.1L1278.0 870.0L1278.5 869.9L1279.0 869.8L1279.5 869.9L1280.0 870.1L1280.5 870.2L1281.0 870.3L1281.5 870.4L1282.0 870.4L1363.5 870.4L1364.0 870.4L1364.5 870.3L1365.0 870.2L1365.5 870.1L1366.0 869.9L1366.5 869.8L1367.0 869.9L1367.5 870.0L1368.0 870.1L1368.5 870.3L1369.0 870.3L1369.5 870.4L1370.0 870.4L1422.5 870.4L1423.0 870.4L1423.5 870.3L1424.0 870.2L1424.5 870.0L1425.0 869.9L1425.5 869.8L1426.0 869.9L1426.5 870.0L1427.0 870.2L1427.5 870.3L1428.0 870.4L1428.5 870.4L1454.0 870.4L1454.5 870.4L1455.0 870.3L1455.5 870.2L1456.0 869.9L1456.5 869.6L1457.0 869.2L1457.5 868.9L1458.0 868.9L1458.5 869.1L1459.0 869.5L1459.5 869.9L1460.0 870.1L1460.5 870.3L1461.0 870.4L1461.5 870.4L1603.5 870.4L1604.0 870.4L1604.5 870.3L1605.0 870.2L1605.5 870.1L1606.0 869.9L1606.5 869.8L1607.0 869.9L1607.5 870.0L1608.0 870.1L1608.5 870.3L1609.0 870.3L1609.5 870.4L1610.0 870.4L1657.0 870.4L1657.5 870.4L1658.0 870.3L1658.5 870.2L1659.0 870.0L1659.5 869.9L1660.0 869.8L1660.5 869.9L1661.0 870.0L1661.5 870.2L1662.0 870.3L1662.5 870.4L1663.0 870.4L1734.5 870.4" fill="none" stroke="#0A6EE6" stroke-width="7.0" stroke-linejoin="round"/>
<path d="M160.5 629.1L285.0 628.8L285.5 628.7L286.0 628.7L286.5 628.7L287.0 628.7L287.5 628.6L288.0 628.6L288.5 628.6L289.0 628.5L289.5 628.5L290.0 628.4L290.5 628.3L291.0 628.3L291.5 628.2L292.0 628.0L292.5 627.9L293.0 627.8L293.5 627.6L294.0 627.3L294.5 627.0L295.0 626.7L295.5 626.1L296.0 625.3L296.5 623.6L297.0 619.9L297.5 611.8L298.0 596.5L298.5 572.6L299.0 543.6L299.5 518.5L300.0 508.4L300.5 518.5L301.0 543.6L301.5 572.6L302.0 596.5L302.5 611.8L303.0 619.9L303.5 623.6L304.0 625.3L304.5 626.1L305.0 626.7L305.5 627.0L306.0 627.3L306.5 627.6L307.0 627.7L307.5 627.9L308.0 628.0L308.5 628.1L309.0 628.2L309.5 628.3L310.0 628.4L310.5 628.4L311.0 628.5L311.5 628.5L312.0 628.6L312.5 628.6L313.0 628.6L313.5 628.7L314.0 628.7L314.5 628.7L342.5 628.7L343.0 628.7L343.5 628.7L344.0 628.7L344.5 628.6L345.0 628.6L345.5 628.6L346.0 628.5L346.5 628.5L347.0 628.4L347.5 628.3L348.0 628.3L348.5 628.2L349.0 628.1L349.5 627.9L350.0 627.8L350.5 627.6L351.0 627.3L351.5 627.0L352.0 626.6L352.5 626.0L353.0 624.8L353.5 622.2L354.0 616.5L354.5 605.2L355.0 586.3L355.5 561.0L356.0 536.2L356.5 521.7L357.0 524.8L357.5 543.8L358.0 569.8L358.5 593.4L359.0 609.8L359.5 618.9L360.0 623.3L360.5 625.3L361.0 626.2L361.5 626.8L362.0 627.1L362.5 627.4L363.0 627.7L363.5 627.8L364.0 628.0L364.5 628.1L365.0 628.2L365.5 628.3L366.0 628.4L366.5 628.4L367.0 628.5L367.5 628.6L368.0 628.6L368.5 628.6L369.0 628.7L369.5 628.7L370.0 628.7L370.5 628.7L371.0 628.8L485.0 628.9L485.5 628.9L486.0 628.9L486.5 628.8L487.0 628.8L487.5 628.7L488.0 628.7L488.5 628.6L489.0 628.5L489.5 628.3L490.0 627.9L490.5 627.0L491.0 625.2L491.5 621.9L492.0 617.2L492.5 612.0L493.0 608.2L493.5 607.5L494.0 610.4L494.5 615.4L495.0 620.5L495.5 624.3L496.0 626.6L496.5 627.7L497.0 628.2L497.5 628.5L498.0 628.6L498.5 628.7L499.0 628.7L499.5 628.8L500.0 628.8L500.5 628.8L501.0 628.9L501.5 628.9L589.0 628.9L589.5 628.9L590.0 628.8L590.5 628.8L591.0 628.8L591.5 628.7L592.0 628.7L592.5 628.6L593.0 628.6L593.5 628.5L594.0 628.3L594.5 628.2L595.0 627.9L595.5 627.3L596.0 626.0L596.5 623.3L597.0 618.3L597.5 610.8L598.0 602.4L598.5 595.8L599.0 594.2L599.5 598.3L600.0 606.1L600.5 614.4L601.0 620.8L601.5 624.7L602.0 626.7L602.5 627.6L603.0 628.0L603.5 628.3L604.0 628.4L604.5 628.5L605.0 628.6L605.5 628.6L606.0 628.7L606.5 628.7L607.0 628.8L607.5 628.8L608.0 628.8L608.5 628.9L613.5 628.9L614.0 628.9L614.5 628.9L615.0 628.8L615.5 628.6L616.0 628.5L616.5 628.4L617.0 628.4L617.5 628.5L618.0 628.7L618.5 628.8L619.0 628.9L619.5 629.0L620.0 629.0L764.0 628.9L764.5 628.8L765.0 628.8L765.5 628.8L766.0 628.7L766.5 628.7L767.0 628.6L767.5 628.6L768.0 628.4L768.5 628.2L769.0 627.7L769.5 626.7L770.0 624.6L770.5 620.9L771.0 616.0L771.5 610.9L772.0 607.7L772.5 607.9L773.0 611.4L773.5 616.6L774.0 621.4L774.5 624.9L775.0 626.8L775.5 627.8L776.0 628.2L776.5 628.4L777.0 628.5L777.5 628.6L778.0 628.7L778.5 628.7L779.0 628.8L779.5 628.8L780.0 628.8L795.5 628.8L796.0 628.7L796.5 628.7L797.0 628.7L797.5 628.7L798.0 628.6L798.5 628.6L799.0 628.5L799.5 628.5L800.0 628.4L800.5 628.4L801.0 628.3L801.5 628.2L802.0 628.1L802.5 627.9L803.0 627.7L803.5 627.5L804.0 627.2L804.5 626.8L805.0 626.1L805.5 624.6L806.0 621.3L806.5 614.4L807.0 601.8L807.5 583.1L808.0 561.8L808.5 545.2L809.0 541.0L809.5 551.4L810.0 571.2L810.5 592.0L811.0 608.2L811.5 618.1L812.0 623.1L812.5 625.4L813.0 626.4L813.5 627.0L814.0 627.3L814.5 627.6L815.0 627.8L815.5 628.0L816.0 628.1L816.5 628.2L817.0 628.3L817.5 628.4L818.0 628.4L818.5 628.5L819.0 628.6L819.5 628.6L820.0 628.6L820.5 628.7L821.0 628.7L821.5 628.7L822.0 628.7L838.0 628.8L838.5 628.7L839.0 628.7L839.5 628.7L840.0 628.7L840.5 628.6L841.0 628.6L841.5 628.5L842.0 628.4L842.5 628.3L843.0 628.2L843.5 628.0L844.0 627.7L844.5 627.1L845.0 625.6L845.5 622.6L846.0 617.4L846.5 610.0L847.0 602.2L847.5 596.8L848.0 596.5L848.5 601.4L849.0 609.0L849.5 616.5L850.0 621.9L850.5 625.0L851.0 626.5L851.5 627.1L852.0 627.1L852.5 626.7L853.0 625.5L853.5 623.0L854.0 618.9L854.5 613.8L855.0 609.1L855.5 607.0L856.0 608.4L856.5 612.8L857.0 618.0L857.5 622.5L858.0 625.4L858.5 627.0L859.0 627.8L859.5 628.1L860.0 628.3L860.5 628.4L861.0 628.4L861.5 628.5L862.0 628.5L862.5 628.6L865.0 628.6L865.5 628.5L866.0 628.5L866.5 628.4L867.0 628.2L867.5 627.7L868.0 626.8L868.5 625.4L869.0 623.7L869.5 622.3L870.0 621.6L870.5 622.1L871.0 623.5L871.5 625.0L872.0 626.2L872.5 626.8L873.0 626.6L873.5 625.4L874.0 622.7L874.5 617.8L875.0 611.1L875.5 604.2L876.0 599.8L876.5 600.1L877.0 604.9L877.5 611.9L878.0 618.5L878.5 623.2L879.0 625.9L879.5 627.2L880.0 627.7L880.5 628.0L881.0 628.1L881.5 628.2L882.0 628.3L882.5 628.3L884.0 628.3L884.5 628.3L885.0 628.3L885.5 628.2L886.0 628.1L886.5 628.0L887.0 627.7L887.5 627.3L888.0 626.3L888.5 624.0L889.0 619.6L889.5 612.4L890.0 603.1L890.5 594.3L891.0 589.6L891.5 591.5L892.0 598.9L892.5 608.4L893.0 616.8L893.5 622.4L894.0 625.5L894.5 627.0L895.0 627.7L895.5 628.0L896.0 628.2L896.5 628.3L897.0 628.4L897.5 628.5L898.0 628.6L898.5 628.6L899.0 628.7L899.5 628.7L900.0 628.7L900.5 628.8L901.0 628.8L901.5 628.8L929.5 629.0L930.0 629.0L930.5 628.9L931.0 628.8L931.5 628.7L932.0 628.4L932.5 628.1L933.0 627.9L933.5 627.9L934.0 628.0L934.5 628.3L935.0 628.6L935.5 628.8L936.0 628.9L936.5 629.0L937.0 629.0L952.0 629.0L952.5 629.0L953.0 629.0L953.5 628.9L954.0 628.7L954.5 628.6L955.0 628.4L955.5 628.3L956.0 628.4L956.5 628.5L957.0 628.7L957.5 628.8L958.0 628.9L958.5 629.0L959.0 629.0L1000.5 628.9L1001.0 628.9L1001.5 628.9L1002.0 628.8L1002.5 628.8L1003.0 628.8L1003.5 628.7L1004.0 628.5L1004.5 628.3L1005.0 627.6L1005.5 626.4L1006.0 624.2L1006.5 621.0L1007.0 617.7L1007.5 615.4L1008.0 615.3L1008.5 617.4L1009.0 620.6L1009.5 623.8L1010.0 626.1L1010.5 627.5L1011.0 628.2L1011.5 628.4L1012.0 628.6L1012.5 628.6L1013.0 628.6L1013.5 628.5L1014.0 628.2L1014.5 627.6L1015.0 626.6L1015.5 625.3L1016.0 624.0L1016.5 623.2L1017.0 623.4L1017.5 624.4L1018.0 625.8L1018.5 627.1L1019.0 628.0L1019.5 628.5L1020.0 628.7L1020.5 628.8L1021.0 628.9L1021.5 628.9L1022.0 628.9L1072.5 629.0L1073.0 629.0L1073.5 628.9L1074.0 628.8L1074.5 628.7L1075.0 628.5L1075.5 628.5L1076.0 628.5L1076.5 628.6L1077.0 628.8L1077.5 628.9L1078.0 629.0L1078.5 629.0L1079.0 629.0L1104.5 628.9L1105.0 628.9L1105.5 628.9L1106.0 628.8L1106.5 628.7L1107.0 628.5L1107.5 627.9L1108.0 626.9L1108.5 625.3L1109.0 623.4L1109.5 621.7L1110.0 621.1L1110.5 621.7L1111.0 623.4L1111.5 625.3L1112.0 626.9L1112.5 627.9L1113.0 628.5L1113.5 628.7L1114.0 628.8L1114.5 628.9L1115.0 628.9L1115.5 628.9L1128.5 629.0L1129.0 629.0L1129.5 628.9L1130.0 628.8L1130.5 628.6L1131.0 628.4L1131.5 628.1L1132.0 627.9L1132.5 627.9L1133.0 628.1L1133.5 628.4L1134.0 628.7L1134.5 628.8L1135.0 628.9L1135.5 629.0L1136.0 629.0L1212.5 629.0L1213.0 628.9L1213.5 628.9L1214.0 628.9L1214.5 628.7L1215.0 628.5L1215.5 628.0L1216.0 627.0L1216.5 625.8L1217.0 624.4L1217.5 623.4L1218.0 623.4L1218.5 624.2L1219.0 625.6L1219.5 626.9L1220.0 627.9L1220.5 628.4L1221.0 628.7L1221.5 628.9L1222.0 628.9L1222.5 628.9L1223.0 629.0L1252.0 628.9L1252.5 628.9L1253.0 628.9L1253.5 628.8L1254.0 628.8L1254.5 628.7L1255.0 628.6L1255.5 628.4L1256.0 627.9L1256.5 626.8L1257.0 624.8L1257.5 621.8L1258.0 618.5L1258.5 615.8L1259.0 615.2L1259.5 616.8L1260.0 619.9L1260.5 623.2L1261.0 625.8L1261.5 627.3L1262.0 628.1L1262.5 628.5L1263.0 628.7L1263.5 628.8L1264.0 628.8L1264.5 628.8L1265.0 628.9L1265.5 628.9L1266.0 628.9L1304.5 629.0L1305.0 629.0L1305.5 628.9L1306.0 628.8L1306.5 628.6L1307.0 628.5L1307.5 628.4L1308.0 628.3L1308.5 628.5L1309.0 628.6L1309.5 628.8L1310.0 628.9L1310.5 629.0L1311.0 629.0L1325.0 629.0L1325.5 629.0L1326.0 628.9L1326.5 628.8L1327.0 628.5L1327.5 628.1L1328.0 627.7L1328.5 627.3L1329.0 627.2L1329.5 627.5L1330.0 627.9L1330.5 628.3L1331.0 628.6L1331.5 628.8L1332.0 628.9L1332.5 629.0L1333.0 629.0L1387.5 629.0L1388.0 629.0L1388.5 628.9L1389.0 628.8L1389.5 628.6L1390.0 628.3L1390.5 627.6L1391.0 626.7L1391.5 625.7L1392.0 625.1L1392.5 625.2L1393.0 625.8L1393.5 626.8L1394.0 627.7L1394.5 628.3L1395.0 628.7L1395.5 628.9L1396.0 628.9L1396.5 629.0L1397.0 629.0L1451.5 629.0L1452.0 628.9L1452.5 628.9L1453.0 628.8L1453.5 628.6L1454.0 628.1L1454.5 627.3L1455.0 626.3L1455.5 625.2L1456.0 624.5L1456.5 624.5L1457.0 625.3L1457.5 626.4L1458.0 627.4L1458.5 628.2L1459.0 628.6L1459.5 628.8L1460.0 628.9L1460.5 628.9L1461.0 628.9L1466.0 628.9L1466.5 628.9L1467.0 628.9L1467.5 628.8L1468.0 628.5L1468.5 628.0L1469.0 627.2L1469.5 626.1L1470.0 625.1L1470.5 624.4L1471.0 624.6L1471.5 625.4L1472.0 626.5L1472.5 627.5L1473.0 628.2L1473.5 628.6L1474.0 628.8L1474.5 628.9L1475.0 628.9L1475.5 629.0L1512.0 629.0L1512.5 629.0L1513.0 629.0L1513.5 628.9L1514.0 628.7L1514.5 628.6L1515.0 628.4L1515.5 628.3L1516.0 628.4L1516.5 628.5L1517.0 628.7L1517.5 628.9L1518.0 629.0L1518.5 629.0L1519.0 629.0L1660.0 629.0L1660.5 629.0L1661.0 628.9L1661.5 628.8L1662.0 628.7L1662.5 628.5L1663.0 628.4L1663.5 628.4L1664.0 628.4L1664.5 628.6L1665.0 628.8L1665.5 628.9L1666.0 629.0L1666.5 629.0L1717.0 629.0L1717.5 629.0L1718.0 628.9L1718.5 628.8L1719.0 628.7L1719.5 628.5L1720.0 628.5L1720.5 628.5L1721.0 628.7L1721.5 628.8L1722.0 628.9L1722.5 629.0L1723.0 629.0L1734.5 629.1" fill="none" stroke="#C986E8" stroke-width="5.6" stroke-linejoin="round"/>
<path d="M160.5 575.0C161.1 575.0 161.4 574.6 163.3 575.0C165.2 575.5 167.3 575.1 170.0 577.4C172.7 579.7 173.1 584.0 176.7 586.5C180.2 588.9 183.8 588.1 187.8 589.8C191.8 591.4 193.1 593.7 196.7 594.7C200.2 595.7 201.6 595.7 205.6 594.7C209.6 593.7 212.2 590.9 216.7 589.8C221.1 588.7 223.3 588.5 227.8 589.3C232.2 590.2 234.4 593.3 238.9 594.2C243.3 595.2 246.0 593.6 250.0 594.2C254.0 594.9 254.9 598.5 258.9 597.6C262.9 596.7 266.0 591.3 270.0 589.8C274.0 588.3 275.8 589.8 278.9 590.2C282.0 590.7 281.6 592.9 285.6 592.0C289.6 591.1 294.0 586.5 298.9 585.8C303.8 585.1 305.6 588.0 310.0 588.7C314.4 589.4 316.7 588.6 321.1 589.3C325.6 590.1 327.8 592.1 332.2 592.5C336.7 592.8 339.3 591.2 343.3 590.9C347.3 590.6 348.9 593.1 352.2 590.9C355.6 588.7 357.3 582.6 360.0 579.7C362.7 576.9 363.1 576.2 365.6 576.7C368.0 577.1 369.6 578.6 372.2 582.0C374.9 585.4 376.2 591.1 378.9 593.8C381.6 596.5 382.0 595.5 385.6 595.3C389.1 595.2 392.7 593.1 396.7 593.1C400.7 593.1 402.0 595.2 405.6 595.3C409.1 595.5 410.4 593.1 414.4 593.8C418.4 594.5 421.1 598.7 425.6 598.7C430.0 598.7 433.1 594.9 436.7 593.8C440.2 592.7 440.7 593.0 443.3 593.1C446.0 593.2 446.9 595.0 450.0 594.2C453.1 593.5 454.9 590.5 458.9 589.3C462.9 588.2 465.6 589.8 470.0 588.7C474.4 587.5 477.1 583.8 481.1 583.6C485.1 583.3 486.4 586.3 490.0 587.6C493.6 588.8 494.9 589.7 498.9 589.8C502.9 589.9 504.2 588.2 510.0 588.0C515.8 587.8 522.2 589.4 527.8 588.7C533.3 587.9 533.3 584.4 537.8 584.2C542.2 584.1 546.0 587.7 550.0 588.0C554.0 588.3 553.8 584.9 557.8 585.8C561.8 586.7 565.1 592.2 570.0 592.5C574.9 592.7 577.1 587.6 582.2 587.1C587.3 586.7 591.3 592.4 595.6 590.2C599.8 588.1 600.5 580.7 603.3 576.2C606.1 571.8 607.1 568.5 609.6 568.0C612.0 567.5 613.2 569.3 615.6 573.9C617.9 578.4 618.7 586.6 621.1 590.9C623.6 595.2 624.9 594.0 627.8 595.3C630.7 596.7 632.0 598.2 635.6 597.6C639.1 596.9 641.3 592.7 645.6 592.0C649.8 591.3 652.2 594.0 656.7 594.2C661.1 594.5 663.7 593.8 667.8 593.1C671.9 592.5 673.1 590.3 677.1 590.9C681.1 591.5 684.3 595.3 687.8 596.0C691.2 596.7 691.6 595.4 694.4 594.2C697.3 593.1 698.7 590.1 702.2 590.2C705.8 590.3 708.4 595.0 712.2 594.7C716.0 594.4 717.6 589.0 721.1 588.7C724.7 588.4 726.2 593.3 730.0 593.1C733.8 592.9 736.2 587.8 740.0 587.6C743.8 587.3 745.6 594.3 748.9 592.0C752.2 589.7 753.8 585.0 756.7 576.2C759.6 567.4 760.9 560.8 763.3 548.0C765.8 535.2 766.7 524.8 768.9 512.2C771.1 499.7 772.2 485.1 774.4 485.1C776.7 485.1 777.8 499.7 780.0 512.2C782.2 524.8 783.3 535.7 785.6 548.0C787.8 560.4 788.7 566.0 791.1 573.9C793.6 581.8 795.0 583.5 797.8 587.6C800.6 591.6 802.9 596.5 805.1 594.2C807.3 592.0 807.5 588.6 808.9 576.2C810.3 563.8 810.9 548.1 812.2 532.2C813.6 516.3 814.1 507.8 815.6 496.7C817.0 485.6 817.8 476.7 819.3 476.7C820.9 476.7 821.6 485.6 823.3 496.7C825.0 507.8 825.8 520.1 827.8 532.2C829.8 544.4 831.1 548.6 833.3 557.4C835.6 566.2 836.7 570.7 838.9 576.2C841.1 581.7 842.2 584.4 844.4 584.9C846.7 585.4 847.6 582.9 850.0 578.6C852.4 574.2 854.0 568.0 856.7 563.3C859.3 558.6 860.7 558.4 863.3 555.1C866.0 551.8 867.3 550.8 870.0 546.8C872.7 542.9 874.2 536.0 876.7 535.6C879.1 535.1 880.0 539.4 882.2 544.5C884.4 549.6 885.6 556.7 887.8 560.9C890.0 565.2 891.1 564.0 893.3 565.6C895.6 567.3 896.7 565.9 898.9 569.2C901.1 572.4 902.2 578.2 904.4 582.0C906.7 585.8 907.1 587.9 910.0 588.0C912.9 588.1 915.3 582.5 918.9 582.7C922.4 582.8 923.8 586.6 927.8 588.7C931.8 590.8 934.4 591.8 938.9 593.1C943.3 594.5 945.6 595.1 950.0 595.3C954.4 595.6 956.7 595.7 961.1 594.2C965.6 592.8 968.2 589.3 972.2 588.0C976.2 586.7 977.3 588.3 981.1 587.6C984.9 586.8 986.7 583.0 991.1 584.2C995.6 585.5 998.7 592.6 1003.3 593.8C1008.0 595.0 1010.4 591.0 1014.4 590.2C1018.4 589.4 1018.9 588.8 1023.3 589.8C1027.8 590.8 1030.9 594.9 1036.7 595.3C1042.4 595.8 1047.1 593.8 1052.2 592.0C1057.3 590.2 1057.8 586.0 1062.2 586.5C1066.7 586.9 1069.8 592.3 1074.4 594.2C1079.1 596.1 1081.1 595.9 1085.6 596.0C1090.0 596.1 1092.7 595.5 1096.7 594.7C1100.7 593.9 1101.8 592.1 1105.6 592.0C1109.3 591.9 1111.1 595.6 1115.6 594.2C1120.0 592.9 1122.7 587.8 1127.8 585.3C1132.9 582.9 1136.2 581.1 1141.1 582.0C1146.0 582.9 1148.0 588.3 1152.2 589.8C1156.4 591.3 1158.0 588.1 1162.2 589.3C1166.4 590.6 1169.1 595.9 1173.3 596.0C1177.6 596.1 1180.0 590.2 1183.3 589.8C1186.7 589.3 1186.7 591.9 1190.0 593.8C1193.3 595.7 1196.0 599.5 1200.0 599.1C1204.0 598.8 1206.2 594.3 1210.0 592.0C1213.8 589.7 1214.9 587.9 1218.9 587.6C1222.9 587.2 1225.1 591.2 1230.0 590.2C1234.9 589.3 1238.2 585.0 1243.3 582.7C1248.4 580.3 1250.7 578.3 1255.6 578.6C1260.4 578.9 1262.7 582.7 1267.8 584.2C1272.9 585.8 1276.2 586.7 1281.1 586.5C1286.0 586.2 1287.8 584.8 1292.2 583.1C1296.7 581.4 1298.4 578.3 1303.3 578.1C1308.2 577.9 1311.8 581.9 1316.7 582.0C1321.6 582.1 1324.2 579.7 1327.8 578.6C1331.3 577.4 1331.6 576.6 1334.4 576.2C1337.3 575.8 1339.1 579.0 1342.2 576.7C1345.3 574.3 1346.9 568.8 1350.0 564.5C1353.1 560.1 1354.7 558.1 1357.8 555.1C1360.9 552.0 1362.7 548.7 1365.6 549.2C1368.4 549.7 1369.3 552.5 1372.2 557.4C1375.1 562.4 1376.9 569.2 1380.0 573.9C1383.1 578.6 1384.4 578.8 1387.8 580.9C1391.1 583.0 1392.7 583.7 1396.7 584.2C1400.7 584.8 1402.4 583.6 1407.8 583.6C1413.1 583.6 1417.1 584.1 1423.3 584.2C1429.6 584.4 1433.8 582.7 1438.9 584.2C1444.0 585.8 1444.9 590.9 1448.9 592.0C1452.9 593.1 1453.8 590.1 1458.9 589.8C1464.0 589.4 1468.4 590.8 1474.4 590.2C1480.4 589.7 1484.0 586.8 1488.9 587.1C1493.8 587.5 1495.1 589.9 1498.9 592.0C1502.7 594.1 1503.8 596.0 1507.8 597.6C1511.8 599.1 1513.6 599.8 1518.9 599.8C1524.2 599.8 1528.7 597.4 1534.4 597.6C1540.2 597.7 1542.0 600.3 1547.8 600.5C1553.6 600.6 1557.1 599.1 1563.3 598.2C1569.6 597.3 1574.0 596.0 1578.9 596.0C1583.8 596.0 1584.2 598.4 1587.8 598.2C1591.3 598.1 1592.2 596.4 1596.7 595.3C1601.1 594.3 1604.7 593.8 1610.0 593.1C1615.3 592.5 1617.1 593.2 1623.3 592.0C1629.6 590.8 1635.3 587.5 1641.1 587.1C1646.9 586.8 1646.9 589.6 1652.2 590.2C1657.6 590.9 1662.2 591.0 1667.8 590.2C1673.3 589.5 1675.6 586.5 1680.0 586.5C1684.4 586.5 1685.8 589.5 1690.0 590.2C1694.2 591.0 1696.9 591.3 1701.1 590.2C1705.3 589.2 1707.1 585.2 1711.1 584.9C1715.1 584.6 1716.9 587.6 1721.1 588.7C1725.3 589.7 1729.5 589.9 1732.2 590.2C1734.9 590.5 1734.0 590.2 1734.5 590.2" fill="none" stroke="#E29C00" stroke-width="5.1" stroke-linejoin="round" stroke-linecap="butt"/>
<path d="M160.5 302.4L303.0 302.1L303.5 302.1L304.0 302.1L304.5 302.1L305.0 302.0L305.5 302.0L306.0 301.9L306.5 301.9L307.0 301.8L307.5 301.8L308.0 301.7L308.5 301.6L309.0 301.4L309.5 301.3L310.0 301.1L310.5 300.8L311.0 300.4L311.5 299.6L312.0 297.9L312.5 293.6L313.0 284.3L313.5 267.8L314.0 246.5L314.5 228.4L315.0 223.7L315.5 235.3L316.0 256.2L316.5 276.0L317.0 289.2L317.5 296.0L318.0 298.9L318.5 300.0L319.0 300.6L319.5 300.9L320.0 301.2L320.5 301.4L321.0 301.5L321.5 301.6L322.0 301.7L322.5 301.8L323.0 301.9L323.5 301.9L324.0 302.0L324.5 302.0L325.0 302.0L325.5 302.1L326.0 302.1L326.5 302.1L327.0 302.1L641.5 302.3L642.0 302.3L642.5 302.2L643.0 302.1L643.5 301.8L644.0 301.2L644.5 300.4L645.0 299.6L645.5 299.2L646.0 299.5L646.5 300.2L647.0 301.1L647.5 301.7L648.0 302.0L648.5 302.2L649.0 302.3L649.5 302.3L691.5 302.3L692.0 302.3L692.5 302.2L693.0 302.0L693.5 301.8L694.0 301.6L694.5 301.6L695.0 301.7L695.5 301.9L696.0 302.1L696.5 302.2L697.0 302.3L697.5 302.3L758.5 302.2L759.0 302.1L759.5 302.1L760.0 302.1L760.5 302.0L761.0 302.0L761.5 302.0L762.0 301.9L762.5 301.8L763.0 301.8L763.5 301.7L764.0 301.6L764.5 301.4L765.0 301.2L765.5 300.9L766.0 300.5L766.5 299.5L767.0 297.0L767.5 291.3L768.0 280.4L768.5 264.7L769.0 248.9L769.5 241.1L770.0 246.2L770.5 260.9L771.0 277.3L771.5 289.4L772.0 296.1L772.5 299.1L773.0 300.3L773.5 300.9L774.0 301.2L774.5 301.4L775.0 301.5L775.5 301.7L776.0 301.7L776.5 301.8L777.0 301.9L777.5 301.9L778.0 302.0L778.5 302.0L779.0 302.1L779.5 302.1L780.0 302.1L780.5 302.1L827.0 302.1L827.5 302.1L828.0 302.1L828.5 302.0L829.0 302.0L829.5 302.0L830.0 301.9L830.5 301.9L831.0 301.8L831.5 301.7L832.0 301.5L832.5 301.4L833.0 301.1L833.5 300.5L834.0 299.1L834.5 295.8L835.0 289.1L835.5 278.8L836.0 267.4L836.5 260.3L837.0 261.9L837.5 271.0L838.0 282.5L838.5 291.8L839.0 297.2L839.5 299.7L840.0 300.7L840.5 301.1L841.0 301.4L841.5 301.5L842.0 301.6L842.5 301.7L843.0 301.8L843.5 301.8L844.0 301.9L844.5 301.9L845.0 301.9L849.5 301.9L850.0 301.9L850.5 301.9L851.0 301.8L851.5 301.8L852.0 301.7L852.5 301.7L853.0 301.6L853.5 301.5L854.0 301.5L854.5 301.3L855.0 301.2L855.5 301.0L856.0 300.8L856.5 300.6L857.0 300.2L857.5 299.8L858.0 299.1L858.5 297.7L859.0 294.5L859.5 286.5L860.0 269.9L860.5 242.4L861.0 209.4L861.5 185.1L862.0 183.6L862.5 206.0L863.0 238.9L863.5 267.4L864.0 285.2L864.5 293.9L865.0 297.5L865.5 299.0L866.0 299.7L866.5 300.2L867.0 300.6L867.5 300.8L868.0 301.1L868.5 301.2L869.0 301.4L869.5 301.5L870.0 301.6L870.5 301.7L871.0 301.7L871.5 301.8L872.0 301.9L872.5 301.9L873.0 301.9L873.5 302.0L874.0 302.0L874.5 302.0L875.0 302.1L875.5 302.1L953.5 302.3L954.0 302.3L954.5 302.2L955.0 302.1L955.5 301.9L956.0 301.4L956.5 300.6L957.0 299.6L957.5 298.9L958.0 298.8L958.5 299.5L959.0 300.5L959.5 301.3L960.0 301.9L960.5 302.1L961.0 302.2L961.5 302.3L962.0 302.3L977.5 302.3L978.0 302.3L978.5 302.2L979.0 302.0L979.5 301.7L980.0 301.2L980.5 300.6L981.0 300.3L981.5 300.4L982.0 300.9L982.5 301.5L983.0 301.9L983.5 302.1L984.0 302.3L984.5 302.3L1061.0 302.2L1061.5 302.2L1062.0 302.2L1062.5 302.1L1063.0 302.1L1063.5 302.0L1064.0 301.9L1064.5 301.7L1065.0 301.3L1065.5 300.2L1066.0 297.9L1066.5 294.0L1067.0 289.4L1067.5 286.0L1068.0 285.8L1068.5 289.0L1069.0 293.5L1069.5 297.5L1070.0 300.0L1070.5 301.2L1071.0 301.7L1071.5 301.9L1072.0 302.0L1072.5 302.1L1073.0 302.1L1073.5 302.2L1074.0 302.2L1074.5 302.2L1134.0 302.3L1134.5 302.2L1135.0 302.2L1135.5 302.1L1136.0 301.8L1136.5 301.2L1137.0 300.2L1137.5 298.7L1138.0 297.4L1138.5 297.0L1139.0 297.7L1139.5 299.1L1140.0 300.4L1140.5 301.4L1141.0 301.9L1141.5 302.1L1142.0 302.2L1142.5 302.2L1143.0 302.3L1207.0 302.2L1207.5 302.2L1208.0 302.2L1208.5 302.1L1209.0 302.1L1209.5 302.0L1210.0 302.0L1210.5 301.9L1211.0 301.8L1211.5 301.7L1212.0 301.5L1212.5 301.0L1213.0 299.8L1213.5 297.1L1214.0 292.0L1214.5 284.5L1215.0 277.0L1215.5 273.3L1216.0 275.7L1216.5 282.7L1217.0 290.5L1217.5 296.2L1218.0 299.4L1218.5 300.8L1219.0 301.4L1219.5 301.7L1220.0 301.8L1220.5 301.9L1221.0 302.0L1221.5 302.0L1222.0 302.1L1222.5 302.1L1223.0 302.2L1223.5 302.2L1224.0 302.2L1341.0 302.2L1341.5 302.2L1342.0 302.2L1342.5 302.2L1343.0 302.1L1343.5 302.1L1344.0 302.0L1344.5 301.8L1345.0 301.4L1345.5 300.5L1346.0 298.5L1346.5 295.1L1347.0 291.1L1347.5 288.2L1348.0 288.0L1348.5 290.7L1349.0 294.7L1349.5 298.1L1350.0 300.3L1350.5 301.4L1351.0 301.8L1351.5 302.0L1352.0 302.1L1352.5 302.1L1353.0 302.2L1353.5 302.2L1354.0 302.2L1354.5 302.2L1378.5 302.3L1379.0 302.2L1379.5 302.1L1380.0 301.9L1380.5 301.5L1381.0 300.7L1381.5 299.9L1382.0 299.3L1382.5 299.3L1383.0 299.9L1383.5 300.8L1384.0 301.5L1384.5 302.0L1385.0 302.2L1385.5 302.3L1386.0 302.3L1419.5 302.3L1420.0 302.3L1420.5 302.2L1421.0 302.1L1421.5 301.9L1422.0 301.4L1422.5 300.9L1423.0 300.4L1423.5 300.3L1424.0 300.7L1424.5 301.2L1425.0 301.7L1425.5 302.1L1426.0 302.2L1426.5 302.3L1427.0 302.3L1459.0 302.3L1459.5 302.3L1460.0 302.2L1460.5 302.0L1461.0 301.6L1461.5 301.0L1462.0 300.1L1462.5 299.4L1463.0 299.2L1463.5 299.7L1464.0 300.5L1464.5 301.3L1465.0 301.8L1465.5 302.1L1466.0 302.2L1466.5 302.3L1467.0 302.3L1505.0 302.3L1505.5 302.2L1506.0 302.2L1506.5 302.0L1507.0 301.5L1507.5 300.8L1508.0 299.8L1508.5 299.0L1509.0 298.8L1509.5 299.3L1510.0 300.3L1510.5 301.2L1511.0 301.8L1511.5 302.1L1512.0 302.2L1512.5 302.3L1513.0 302.3L1537.0 302.3L1537.5 302.3L1538.0 302.2L1538.5 302.1L1539.0 301.9L1539.5 301.7L1540.0 301.6L1540.5 301.7L1541.0 301.9L1541.5 302.1L1542.0 302.2L1542.5 302.3L1543.0 302.3L1654.0 302.3L1654.5 302.3L1655.0 302.2L1655.5 302.0L1656.0 301.9L1656.5 301.8L1657.0 301.8L1657.5 301.9L1658.0 302.1L1658.5 302.2L1659.0 302.3L1659.5 302.3L1680.5 302.3L1681.0 302.3L1681.5 302.2L1682.0 302.1L1682.5 301.9L1683.0 301.8L1683.5 301.8L1684.0 301.9L1684.5 302.0L1685.0 302.2L1685.5 302.3L1686.0 302.3L1734.5 302.4" fill="none" stroke="#00D2D2" stroke-width="7.7" stroke-linejoin="round"/>
<path d="M160.5 264.7C161.1 264.7 161.0 264.3 163.3 264.7C165.7 265.2 167.8 266.7 172.2 267.0C176.7 267.2 180.4 265.4 185.6 265.9C190.7 266.3 192.9 269.4 197.8 269.2C202.7 269.0 204.9 264.8 210.0 264.7C215.1 264.7 218.0 269.0 223.3 268.7C228.7 268.5 231.8 265.3 236.7 263.6C241.6 261.9 243.3 259.7 247.8 260.3C252.2 260.9 254.4 266.0 258.9 266.5C263.3 267.1 266.0 263.7 270.0 263.0C274.0 262.3 275.6 263.4 278.9 263.0C282.2 262.5 283.6 260.8 286.7 260.7C289.8 260.7 288.9 261.9 294.4 262.5C300.0 263.1 304.7 263.5 314.4 263.6C324.2 263.7 335.8 262.5 343.3 263.0C350.9 263.4 343.3 265.3 352.2 265.9C361.1 266.4 378.4 265.3 387.8 265.9C397.1 266.4 390.9 268.3 398.9 268.7C406.9 269.2 420.2 268.0 427.8 268.1C435.3 268.2 430.0 269.1 436.7 269.2C443.3 269.3 453.6 268.2 461.1 268.7C468.7 269.3 469.6 271.9 474.4 271.9C479.3 271.9 481.1 268.7 485.6 268.7C490.0 268.7 492.2 272.0 496.7 271.9C501.1 271.7 501.6 268.7 507.8 268.1C514.0 267.5 521.1 268.9 527.8 268.7C534.4 268.6 536.7 267.5 541.1 267.4C545.6 267.3 546.0 268.1 550.0 268.1C554.0 268.1 555.8 268.3 561.1 267.4C566.4 266.5 570.0 264.7 576.7 263.6C583.3 262.6 586.4 262.2 594.4 262.1C602.4 261.9 607.8 263.0 616.7 263.0C625.6 263.0 632.7 262.8 638.9 262.1C645.1 261.3 643.3 258.9 647.8 259.2C652.2 259.5 656.2 263.9 661.1 263.6C666.0 263.4 667.8 259.5 672.2 258.0C676.7 256.5 678.4 255.7 683.3 256.1C688.2 256.6 690.4 259.6 696.7 260.3C702.9 261.0 708.4 258.5 714.4 259.9C720.4 261.2 722.2 266.3 726.7 267.0C731.1 267.6 732.9 263.6 736.7 263.0C740.4 262.3 742.0 262.8 745.6 263.6C749.1 264.4 751.3 267.2 754.4 267.0C757.6 266.7 758.7 266.7 761.1 262.5C763.6 258.4 764.9 256.5 766.7 246.3C768.4 236.1 768.7 226.6 770.0 211.6C771.3 196.7 771.9 183.5 773.3 171.6C774.8 159.7 775.6 152.1 777.1 152.1C778.7 152.1 779.4 157.5 781.1 171.6C782.8 185.8 783.8 207.9 785.6 222.8C787.3 237.7 788.2 239.0 790.0 246.3C791.8 253.6 792.7 255.4 794.4 259.2C796.2 263.0 797.1 263.4 798.9 265.2C800.7 267.0 801.3 269.1 803.3 268.1C805.3 267.1 806.9 268.4 808.9 260.3C810.9 252.2 811.8 241.7 813.3 227.5C814.9 213.3 815.1 201.9 816.7 189.4C818.2 176.9 819.3 166.3 821.1 165.0C822.9 163.6 823.8 170.2 825.6 182.7C827.3 195.2 828.1 212.7 830.0 227.5C831.9 242.3 833.3 249.3 835.1 256.9C836.9 264.4 837.2 262.5 838.9 265.2C840.6 267.9 840.9 268.8 843.8 270.5C846.7 272.2 849.9 273.7 853.3 273.6C856.8 273.6 858.0 273.0 861.1 270.3C864.2 267.6 866.2 266.5 868.9 260.3C871.6 254.1 872.1 246.5 874.4 239.2C876.8 232.0 878.2 224.4 880.4 224.0C882.7 223.5 883.4 229.6 885.6 236.9C887.7 244.2 888.9 254.2 891.1 260.3C893.3 266.4 893.8 265.6 896.7 267.4C899.6 269.2 901.8 269.6 905.6 269.2C909.3 268.7 911.1 265.4 915.6 265.2C920.0 265.0 922.7 267.3 927.8 268.1C932.9 268.9 936.7 269.0 941.1 269.2C945.6 269.4 946.0 268.5 950.0 269.2C954.0 269.9 956.7 272.6 961.1 272.5C965.6 272.4 967.8 268.9 972.2 268.7C976.7 268.6 978.9 272.0 983.3 271.9C987.8 271.7 989.1 269.0 994.4 268.1C999.8 267.2 1004.2 266.5 1010.0 267.4C1015.8 268.3 1018.4 272.6 1023.3 272.5C1028.2 272.4 1030.4 269.1 1034.4 267.0C1038.4 264.9 1039.3 262.5 1043.3 262.1C1047.3 261.6 1049.1 264.4 1054.4 264.7C1059.8 265.1 1063.3 263.4 1070.0 263.6C1076.7 263.9 1081.1 264.4 1087.8 265.9C1094.4 267.3 1098.0 270.7 1103.3 271.0C1108.7 271.2 1111.1 268.3 1114.4 267.0C1117.8 265.6 1117.3 263.9 1120.0 264.3C1122.7 264.7 1124.9 269.3 1127.8 268.7C1130.7 268.2 1131.7 263.9 1134.4 261.4C1137.2 258.9 1138.4 255.9 1141.6 256.1C1144.7 256.4 1146.1 260.1 1150.0 262.5C1153.9 264.9 1156.7 267.3 1161.1 268.1C1165.6 268.9 1167.8 267.5 1172.2 266.5C1176.7 265.5 1178.9 263.9 1183.3 263.0C1187.8 262.1 1190.4 261.5 1194.4 262.1C1198.4 262.7 1200.0 264.5 1203.3 265.9C1206.7 267.2 1208.0 268.9 1211.1 268.7C1214.2 268.6 1215.1 265.5 1218.9 265.2C1222.7 264.8 1225.6 267.1 1230.0 267.0C1234.4 266.9 1235.8 264.7 1241.1 264.7C1246.4 264.7 1250.0 266.3 1256.7 267.0C1263.3 267.6 1266.4 268.3 1274.4 268.1C1282.4 267.9 1289.3 265.4 1296.7 265.9C1304.0 266.3 1305.8 270.1 1311.1 270.3C1316.4 270.5 1318.2 267.5 1323.3 267.0C1328.4 266.4 1331.3 267.2 1336.7 267.4C1342.0 267.6 1345.6 269.3 1350.0 268.1C1354.4 266.9 1355.8 265.8 1358.9 261.4C1362.0 257.1 1363.2 250.2 1365.6 246.3C1367.9 242.4 1368.4 241.6 1370.4 242.1C1372.4 242.5 1373.4 244.3 1375.6 248.6C1377.7 252.9 1378.2 259.2 1381.1 263.6C1384.0 268.1 1386.0 269.9 1390.0 271.0C1394.0 272.1 1396.7 269.2 1401.1 269.2C1405.6 269.2 1408.2 271.1 1412.2 271.0C1416.2 270.9 1416.7 268.7 1421.1 268.7C1425.6 268.8 1428.7 270.5 1434.4 271.4C1440.2 272.3 1442.9 272.8 1450.0 273.2C1457.1 273.5 1463.4 274.2 1470.0 273.2C1476.6 272.2 1478.0 268.2 1482.9 268.1C1487.8 267.9 1489.9 271.8 1494.4 272.5C1499.0 273.3 1500.7 270.8 1505.6 271.9C1510.4 272.9 1514.4 277.1 1518.9 277.6C1523.3 278.2 1523.8 274.9 1527.8 274.7C1531.8 274.6 1533.6 277.0 1538.9 277.0C1544.2 277.0 1546.9 275.1 1554.4 274.7C1562.0 274.4 1567.3 275.7 1576.7 275.4C1586.0 275.1 1593.3 274.4 1601.1 273.2C1608.9 271.9 1610.7 269.5 1615.6 269.2C1620.4 268.9 1621.3 271.5 1625.6 271.9C1629.8 272.2 1631.8 271.9 1636.7 271.0C1641.6 270.1 1645.1 267.3 1650.0 267.4C1654.9 267.5 1656.7 270.4 1661.1 271.4C1665.6 272.4 1667.8 273.0 1672.2 272.5C1676.7 272.1 1678.4 269.5 1683.3 269.2C1688.2 268.9 1691.3 270.9 1696.7 271.0C1702.0 271.1 1704.7 269.5 1710.0 269.6C1715.3 269.8 1718.9 271.5 1723.3 271.9C1727.8 272.2 1730.0 271.5 1732.2 271.4C1734.5 271.3 1734.0 271.4 1734.5 271.4" fill="none" stroke="#844444" stroke-width="4.6" stroke-linejoin="round" stroke-linecap="butt"/>
<clipPath id="clipc"><rect x="300" y="200" width="30" height="92"/></clipPath>
<path clip-path="url(#clipc)" opacity="0.88" d="M160.5 302.4L303.0 302.1L303.5 302.1L304.0 302.1L304.5 302.1L305.0 302.0L305.5 302.0L306.0 301.9L306.5 301.9L307.0 301.8L307.5 301.8L308.0 301.7L308.5 301.6L309.0 301.4L309.5 301.3L310.0 301.1L310.5 300.8L311.0 300.4L311.5 299.6L312.0 297.9L312.5 293.6L313.0 284.3L313.5 267.8L314.0 246.5L314.5 228.4L315.0 223.7L315.5 235.3L316.0 256.2L316.5 276.0L317.0 289.2L317.5 296.0L318.0 298.9L318.5 300.0L319.0 300.6L319.5 300.9L320.0 301.2L320.5 301.4L321.0 301.5L321.5 301.6L322.0 301.7L322.5 301.8L323.0 301.9L323.5 301.9L324.0 302.0L324.5 302.0L325.0 302.0L325.5 302.1L326.0 302.1L326.5 302.1L327.0 302.1L641.5 302.3L642.0 302.3L642.5 302.2L643.0 302.1L643.5 301.8L644.0 301.2L644.5 300.4L645.0 299.6L645.5 299.2L646.0 299.5L646.5 300.2L647.0 301.1L647.5 301.7L648.0 302.0L648.5 302.2L649.0 302.3L649.5 302.3L691.5 302.3L692.0 302.3L692.5 302.2L693.0 302.0L693.5 301.8L694.0 301.6L694.5 301.6L695.0 301.7L695.5 301.9L696.0 302.1L696.5 302.2L697.0 302.3L697.5 302.3L758.5 302.2L759.0 302.1L759.5 302.1L760.0 302.1L760.5 302.0L761.0 302.0L761.5 302.0L762.0 301.9L762.5 301.8L763.0 301.8L763.5 301.7L764.0 301.6L764.5 301.4L765.0 301.2L765.5 300.9L766.0 300.5L766.5 299.5L767.0 297.0L767.5 291.3L768.0 280.4L768.5 264.7L769.0 248.9L769.5 241.1L770.0 246.2L770.5 260.9L771.0 277.3L771.5 289.4L772.0 296.1L772.5 299.1L773.0 300.3L773.5 300.9L774.0 301.2L774.5 301.4L775.0 301.5L775.5 301.7L776.0 301.7L776.5 301.8L777.0 301.9L777.5 301.9L778.0 302.0L778.5 302.0L779.0 302.1L779.5 302.1L780.0 302.1L780.5 302.1L827.0 302.1L827.5 302.1L828.0 302.1L828.5 302.0L829.0 302.0L829.5 302.0L830.0 301.9L830.5 301.9L831.0 301.8L831.5 301.7L832.0 301.5L832.5 301.4L833.0 301.1L833.5 300.5L834.0 299.1L834.5 295.8L835.0 289.1L835.5 278.8L836.0 267.4L836.5 260.3L837.0 261.9L837.5 271.0L838.0 282.5L838.5 291.8L839.0 297.2L839.5 299.7L840.0 300.7L840.5 301.1L841.0 301.4L841.5 301.5L842.0 301.6L842.5 301.7L843.0 301.8L843.5 301.8L844.0 301.9L844.5 301.9L845.0 301.9L849.5 301.9L850.0 301.9L850.5 301.9L851.0 301.8L851.5 301.8L852.0 301.7L852.5 301.7L853.0 301.6L853.5 301.5L854.0 301.5L854.5 301.3L855.0 301.2L855.5 301.0L856.0 300.8L856.5 300.6L857.0 300.2L857.5 299.8L858.0 299.1L858.5 297.7L859.0 294.5L859.5 286.5L860.0 269.9L860.5 242.4L861.0 209.4L861.5 185.1L862.0 183.6L862.5 206.0L863.0 238.9L863.5 267.4L864.0 285.2L864.5 293.9L865.0 297.5L865.5 299.0L866.0 299.7L866.5 300.2L867.0 300.6L867.5 300.8L868.0 301.1L868.5 301.2L869.0 301.4L869.5 301.5L870.0 301.6L870.5 301.7L871.0 301.7L871.5 301.8L872.0 301.9L872.5 301.9L873.0 301.9L873.5 302.0L874.0 302.0L874.5 302.0L875.0 302.1L875.5 302.1L953.5 302.3L954.0 302.3L954.5 302.2L955.0 302.1L955.5 301.9L956.0 301.4L956.5 300.6L957.0 299.6L957.5 298.9L958.0 298.8L958.5 299.5L959.0 300.5L959.5 301.3L960.0 301.9L960.5 302.1L961.0 302.2L961.5 302.3L962.0 302.3L977.5 302.3L978.0 302.3L978.5 302.2L979.0 302.0L979.5 301.7L980.0 301.2L980.5 300.6L981.0 300.3L981.5 300.4L982.0 300.9L982.5 301.5L983.0 301.9L983.5 302.1L984.0 302.3L984.5 302.3L1061.0 302.2L1061.5 302.2L1062.0 302.2L1062.5 302.1L1063.0 302.1L1063.5 302.0L1064.0 301.9L1064.5 301.7L1065.0 301.3L1065.5 300.2L1066.0 297.9L1066.5 294.0L1067.0 289.4L1067.5 286.0L1068.0 285.8L1068.5 289.0L1069.0 293.5L1069.5 297.5L1070.0 300.0L1070.5 301.2L1071.0 301.7L1071.5 301.9L1072.0 302.0L1072.5 302.1L1073.0 302.1L1073.5 302.2L1074.0 302.2L1074.5 302.2L1134.0 302.3L1134.5 302.2L1135.0 302.2L1135.5 302.1L1136.0 301.8L1136.5 301.2L1137.0 300.2L1137.5 298.7L1138.0 297.4L1138.5 297.0L1139.0 297.7L1139.5 299.1L1140.0 300.4L1140.5 301.4L1141.0 301.9L1141.5 302.1L1142.0 302.2L1142.5 302.2L1143.0 302.3L1207.0 302.2L1207.5 302.2L1208.0 302.2L1208.5 302.1L1209.0 302.1L1209.5 302.0L1210.0 302.0L1210.5 301.9L1211.0 301.8L1211.5 301.7L1212.0 301.5L1212.5 301.0L1213.0 299.8L1213.5 297.1L1214.0 292.0L1214.5 284.5L1215.0 277.0L1215.5 273.3L1216.0 275.7L1216.5 282.7L1217.0 290.5L1217.5 296.2L1218.0 299.4L1218.5 300.8L1219.0 301.4L1219.5 301.7L1220.0 301.8L1220.5 301.9L1221.0 302.0L1221.5 302.0L1222.0 302.1L1222.5 302.1L1223.0 302.2L1223.5 302.2L1224.0 302.2L1341.0 302.2L1341.5 302.2L1342.0 302.2L1342.5 302.2L1343.0 302.1L1343.5 302.1L1344.0 302.0L1344.5 301.8L1345.0 301.4L1345.5 300.5L1346.0 298.5L1346.5 295.1L1347.0 291.1L1347.5 288.2L1348.0 288.0L1348.5 290.7L1349.0 294.7L1349.5 298.1L1350.0 300.3L1350.5 301.4L1351.0 301.8L1351.5 302.0L1352.0 302.1L1352.5 302.1L1353.0 302.2L1353.5 302.2L1354.0 302.2L1354.5 302.2L1378.5 302.3L1379.0 302.2L1379.5 302.1L1380.0 301.9L1380.5 301.5L1381.0 300.7L1381.5 299.9L1382.0 299.3L1382.5 299.3L1383.0 299.9L1383.5 300.8L1384.0 301.5L1384.5 302.0L1385.0 302.2L1385.5 302.3L1386.0 302.3L1419.5 302.3L1420.0 302.3L1420.5 302.2L1421.0 302.1L1421.5 301.9L1422.0 301.4L1422.5 300.9L1423.0 300.4L1423.5 300.3L1424.0 300.7L1424.5 301.2L1425.0 301.7L1425.5 302.1L1426.0 302.2L1426.5 302.3L1427.0 302.3L1459.0 302.3L1459.5 302.3L1460.0 302.2L1460.5 302.0L1461.0 301.6L1461.5 301.0L1462.0 300.1L1462.5 299.4L1463.0 299.2L1463.5 299.7L1464.0 300.5L1464.5 301.3L1465.0 301.8L1465.5 302.1L1466.0 302.2L1466.5 302.3L1467.0 302.3L1505.0 302.3L1505.5 302.2L1506.0 302.2L1506.5 302.0L1507.0 301.5L1507.5 300.8L1508.0 299.8L1508.5 299.0L1509.0 298.8L1509.5 299.3L1510.0 300.3L1510.5 301.2L1511.0 301.8L1511.5 302.1L1512.0 302.2L1512.5 302.3L1513.0 302.3L1537.0 302.3L1537.5 302.3L1538.0 302.2L1538.5 302.1L1539.0 301.9L1539.5 301.7L1540.0 301.6L1540.5 301.7L1541.0 301.9L1541.5 302.1L1542.0 302.2L1542.5 302.3L1543.0 302.3L1654.0 302.3L1654.5 302.3L1655.0 302.2L1655.5 302.0L1656.0 301.9L1656.5 301.8L1657.0 301.8L1657.5 301.9L1658.0 302.1L1658.5 302.2L1659.0 302.3L1659.5 302.3L1680.5 302.3L1681.0 302.3L1681.5 302.2L1682.0 302.1L1682.5 301.9L1683.0 301.8L1683.5 301.8L1684.0 301.9L1684.5 302.0L1685.0 302.2L1685.5 302.3L1686.0 302.3L1734.5 302.4" fill="none" stroke="#00D2D2" stroke-width="7.7" stroke-linejoin="round"/>
<rect x="160.4" y="38.9" width="1573.7" height="1160.8" fill="none" stroke="#000" stroke-width="7.8"/>
<line x1="179.9" y1="1199" x2="179.9" y2="1221.5" stroke="#000" stroke-width="7.6"/>
<line x1="374.2" y1="1199" x2="374.2" y2="1221.5" stroke="#000" stroke-width="7.6"/>
<line x1="568.4" y1="1199" x2="568.4" y2="1221.5" stroke="#000" stroke-width="7.6"/>
<line x1="762.7" y1="1199" x2="762.7" y2="1221.5" stroke="#000" stroke-width="7.6"/>
<line x1="957.0" y1="1199" x2="957.0" y2="1221.5" stroke="#000" stroke-width="7.6"/>
<line x1="1151.3" y1="1199" x2="1151.3" y2="1221.5" stroke="#000" stroke-width="7.6"/>
<line x1="1345.5" y1="1199" x2="1345.5" y2="1221.5" stroke="#000" stroke-width="7.6"/>
<line x1="1539.8" y1="1199" x2="1539.8" y2="1221.5" stroke="#000" stroke-width="7.6"/>
<line x1="1734.1" y1="1199" x2="1734.1" y2="1221.5" stroke="#000" stroke-width="7.6"/>
<text x="179.9" y="1298" font-size="77" text-anchor="middle" fill="#000" stroke="#000" stroke-width="0.3">5</text>
<text x="374.2" y="1298" font-size="77" text-anchor="middle" fill="#000" stroke="#000" stroke-width="0.3">10</text>
<text x="568.4" y="1298" font-size="77" text-anchor="middle" fill="#000" stroke="#000" stroke-width="0.3">15</text>
<text x="762.7" y="1298" font-size="77" text-anchor="middle" fill="#000" stroke="#000" stroke-width="0.3">20</text>
<text x="957.0" y="1298" font-size="77" text-anchor="middle" fill="#000" stroke="#000" stroke-width="0.3">25</text>
<text x="1151.3" y="1298" font-size="77" text-anchor="middle" fill="#000" stroke="#000" stroke-width="0.3">30</text>
<text x="1345.5" y="1298" font-size="77" text-anchor="middle" fill="#000" stroke="#000" stroke-width="0.3">35</text>
<text x="1539.8" y="1298" font-size="77" text-anchor="middle" fill="#000" stroke="#000" stroke-width="0.3">40</text>
<text x="1734.1" y="1298" font-size="77" text-anchor="middle" fill="#000" stroke="#000" stroke-width="0.3">45</text>
<text x="946.5" y="1397" font-size="77" text-anchor="middle" fill="#000">2 Theta (Degree)</text>
<text transform="translate(80.5,619.8) rotate(-90)" font-size="77" text-anchor="middle" fill="#000">Intensity (a.u.)</text>
<text x="1284.3" y="125.4" font-size="49.0" fill="#A05A34" stroke="#A05A34">Pd-AlPO-31/SiO<tspan font-size="34.3" dy="14.5">2</tspan></text>
<text x="1291.5" y="206.7" font-size="49.0" fill="#00CDD0" stroke="#00CDD0">AlPO-31 Simulated</text>
<text x="1286.8" y="412.7" font-size="49.0" fill="#BE8C34" stroke="#BE8C34">Pd-AlPO-11/SiO<tspan font-size="34.3" dy="14.5">2</tspan></text>
<text x="1284.8" y="496.7" font-size="49.0" fill="#C834DC" stroke="#C834DC">AlPO-11 Simulated</text>
<text x="1286.8" y="702.7" font-size="49.0" fill="#069A36" stroke="#069A36">Pd-AlPO-8/SiO<tspan font-size="34.3" dy="14.5">2</tspan></text>
<text x="1284.8" y="779.4" font-size="49.0" fill="#2E24FF" stroke="#2E24FF">AlPO-8 Simulated</text>
<text x="1296.1" y="969.9" font-size="49.0" fill="#FF2626" stroke="#FF2626">Pd-AlPO-5/SiO<tspan font-size="34.3" dy="14.5">2</tspan></text>
<text x="1296.8" y="1049.9" font-size="49.0" fill="#262626" stroke="#262626">AlPO-5 Simulated</text>
</g>
</svg></body></html>
